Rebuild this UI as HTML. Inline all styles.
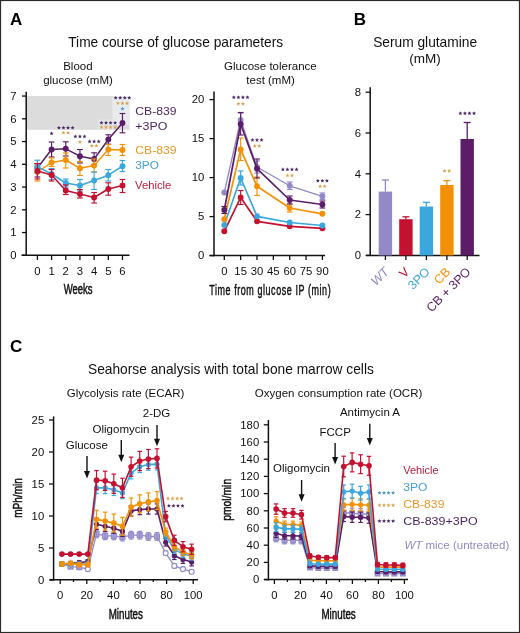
<!DOCTYPE html>
<html><head><meta charset="utf-8"><style>
html,body{margin:0;padding:0;background:#fff;}
svg{display:block;font-family:"Liberation Sans", sans-serif;will-change:transform;}
</style></head><body>
<svg width="520" height="633" viewBox="0 0 520 633">
<rect x="0" y="0" width="520" height="633" fill="#fff"/>
<text x="10.00" y="24.70" font-size="17" text-anchor="start" fill="#000" stroke="#000" stroke-width="0" font-weight="bold"  >A</text>
<text x="68.20" y="46.60" font-size="13.75" text-anchor="start" fill="#111" stroke="#111" stroke-width="0" font-weight="normal"  >Time course of glucose parameters</text>
<text x="77.90" y="69.60" font-size="11.5" text-anchor="middle" fill="#111" stroke="#111" stroke-width="0" font-weight="normal"  >Blood</text>
<text x="78.00" y="84.00" font-size="11.5" text-anchor="middle" fill="#111" stroke="#111" stroke-width="0" font-weight="normal"  >glucose (mM)</text>
<rect x="27" y="96" width="102.5" height="33.8" fill="#dcdcdc"/>
<rect x="112.5" y="96" width="17" height="29" fill="#e8ebee"/>
<rect x="98" y="119.5" width="15" height="10.3" fill="#e4e4e4"/>
<line x1="26.20" y1="91.80" x2="26.20" y2="256.05" stroke="#111" stroke-width="1.5" />
<line x1="21.50" y1="255.30" x2="129.50" y2="255.30" stroke="#111" stroke-width="1.5" />
<line x1="22.00" y1="255.30" x2="26.20" y2="255.30" stroke="#111" stroke-width="1.3" />
<text x="16.60" y="259.00" font-size="11.3" text-anchor="end" fill="#111" stroke="#111" stroke-width="0" font-weight="normal"  >0</text>
<line x1="22.00" y1="232.55" x2="26.20" y2="232.55" stroke="#111" stroke-width="1.3" />
<text x="16.60" y="236.25" font-size="11.3" text-anchor="end" fill="#111" stroke="#111" stroke-width="0" font-weight="normal"  >1</text>
<line x1="22.00" y1="209.80" x2="26.20" y2="209.80" stroke="#111" stroke-width="1.3" />
<text x="16.60" y="213.50" font-size="11.3" text-anchor="end" fill="#111" stroke="#111" stroke-width="0" font-weight="normal"  >2</text>
<line x1="22.00" y1="187.05" x2="26.20" y2="187.05" stroke="#111" stroke-width="1.3" />
<text x="16.60" y="190.75" font-size="11.3" text-anchor="end" fill="#111" stroke="#111" stroke-width="0" font-weight="normal"  >3</text>
<line x1="22.00" y1="164.30" x2="26.20" y2="164.30" stroke="#111" stroke-width="1.3" />
<text x="16.60" y="168.00" font-size="11.3" text-anchor="end" fill="#111" stroke="#111" stroke-width="0" font-weight="normal"  >4</text>
<line x1="22.00" y1="141.55" x2="26.20" y2="141.55" stroke="#111" stroke-width="1.3" />
<text x="16.60" y="145.25" font-size="11.3" text-anchor="end" fill="#111" stroke="#111" stroke-width="0" font-weight="normal"  >5</text>
<line x1="22.00" y1="118.80" x2="26.20" y2="118.80" stroke="#111" stroke-width="1.3" />
<text x="16.60" y="122.50" font-size="11.3" text-anchor="end" fill="#111" stroke="#111" stroke-width="0" font-weight="normal"  >6</text>
<line x1="22.00" y1="96.05" x2="26.20" y2="96.05" stroke="#111" stroke-width="1.3" />
<text x="16.60" y="99.75" font-size="11.3" text-anchor="end" fill="#111" stroke="#111" stroke-width="0" font-weight="normal"  >7</text>
<line x1="37.40" y1="255.30" x2="37.40" y2="260.00" stroke="#111" stroke-width="1.3" />
<text x="37.40" y="274.80" font-size="11.3" text-anchor="middle" fill="#111" stroke="#111" stroke-width="0" font-weight="normal"  >0</text>
<line x1="51.58" y1="255.30" x2="51.58" y2="260.00" stroke="#111" stroke-width="1.3" />
<text x="51.58" y="274.80" font-size="11.3" text-anchor="middle" fill="#111" stroke="#111" stroke-width="0" font-weight="normal"  >1</text>
<line x1="65.76" y1="255.30" x2="65.76" y2="260.00" stroke="#111" stroke-width="1.3" />
<text x="65.76" y="274.80" font-size="11.3" text-anchor="middle" fill="#111" stroke="#111" stroke-width="0" font-weight="normal"  >2</text>
<line x1="79.94" y1="255.30" x2="79.94" y2="260.00" stroke="#111" stroke-width="1.3" />
<text x="79.94" y="274.80" font-size="11.3" text-anchor="middle" fill="#111" stroke="#111" stroke-width="0" font-weight="normal"  >3</text>
<line x1="94.12" y1="255.30" x2="94.12" y2="260.00" stroke="#111" stroke-width="1.3" />
<text x="94.12" y="274.80" font-size="11.3" text-anchor="middle" fill="#111" stroke="#111" stroke-width="0" font-weight="normal"  >4</text>
<line x1="108.30" y1="255.30" x2="108.30" y2="260.00" stroke="#111" stroke-width="1.3" />
<text x="108.30" y="274.80" font-size="11.3" text-anchor="middle" fill="#111" stroke="#111" stroke-width="0" font-weight="normal"  >5</text>
<line x1="122.48" y1="255.30" x2="122.48" y2="260.00" stroke="#111" stroke-width="1.3" />
<text x="122.48" y="274.80" font-size="11.3" text-anchor="middle" fill="#111" stroke="#111" stroke-width="0" font-weight="normal"  >6</text>
<text transform="translate(78.10,294.40) scale(0.67,1)" font-size="14.2" text-anchor="middle" fill="#111" stroke="#111" stroke-width="0.5" letter-spacing="0">Weeks</text>
<line x1="37.40" y1="163.60" x2="37.40" y2="177.00" stroke="#5b1d68" stroke-width="1.15"/>
<line x1="34.50" y1="163.60" x2="40.30" y2="163.60" stroke="#5b1d68" stroke-width="1.15"/>
<line x1="34.50" y1="177.00" x2="40.30" y2="177.00" stroke="#5b1d68" stroke-width="1.15"/>
<line x1="51.58" y1="142.00" x2="51.58" y2="157.00" stroke="#5b1d68" stroke-width="1.15"/>
<line x1="48.68" y1="142.00" x2="54.48" y2="142.00" stroke="#5b1d68" stroke-width="1.15"/>
<line x1="48.68" y1="157.00" x2="54.48" y2="157.00" stroke="#5b1d68" stroke-width="1.15"/>
<line x1="65.76" y1="141.80" x2="65.76" y2="156.00" stroke="#5b1d68" stroke-width="1.15"/>
<line x1="62.86" y1="141.80" x2="68.66" y2="141.80" stroke="#5b1d68" stroke-width="1.15"/>
<line x1="62.86" y1="156.00" x2="68.66" y2="156.00" stroke="#5b1d68" stroke-width="1.15"/>
<line x1="79.94" y1="149.50" x2="79.94" y2="163.00" stroke="#5b1d68" stroke-width="1.15"/>
<line x1="77.04" y1="149.50" x2="82.84" y2="149.50" stroke="#5b1d68" stroke-width="1.15"/>
<line x1="77.04" y1="163.00" x2="82.84" y2="163.00" stroke="#5b1d68" stroke-width="1.15"/>
<line x1="94.12" y1="152.80" x2="94.12" y2="165.00" stroke="#5b1d68" stroke-width="1.15"/>
<line x1="91.22" y1="152.80" x2="97.02" y2="152.80" stroke="#5b1d68" stroke-width="1.15"/>
<line x1="91.22" y1="165.00" x2="97.02" y2="165.00" stroke="#5b1d68" stroke-width="1.15"/>
<line x1="108.30" y1="134.80" x2="108.30" y2="144.20" stroke="#5b1d68" stroke-width="1.15"/>
<line x1="105.40" y1="134.80" x2="111.20" y2="134.80" stroke="#5b1d68" stroke-width="1.15"/>
<line x1="105.40" y1="144.20" x2="111.20" y2="144.20" stroke="#5b1d68" stroke-width="1.15"/>
<line x1="122.48" y1="113.50" x2="122.48" y2="132.80" stroke="#5b1d68" stroke-width="1.15"/>
<line x1="119.58" y1="113.50" x2="125.38" y2="113.50" stroke="#5b1d68" stroke-width="1.15"/>
<line x1="119.58" y1="132.80" x2="125.38" y2="132.80" stroke="#5b1d68" stroke-width="1.15"/>
<path d="M37.40,168.00 L51.58,149.50 L65.76,148.80 L79.94,156.20 L94.12,159.00 L108.30,139.50 L122.48,123.00" fill="none" stroke="#5b1d68" stroke-width="1.5" stroke-linejoin="round"/>
<circle cx="37.40" cy="168.00" r="2.95" fill="#5b1d68"/>
<circle cx="51.58" cy="149.50" r="2.95" fill="#5b1d68"/>
<circle cx="65.76" cy="148.80" r="2.95" fill="#5b1d68"/>
<circle cx="79.94" cy="156.20" r="2.95" fill="#5b1d68"/>
<circle cx="94.12" cy="159.00" r="2.95" fill="#5b1d68"/>
<circle cx="108.30" cy="139.50" r="2.95" fill="#5b1d68"/>
<circle cx="122.48" cy="123.00" r="2.95" fill="#5b1d68"/>
<line x1="37.40" y1="165.00" x2="37.40" y2="181.00" stroke="#f29108" stroke-width="1.15"/>
<line x1="34.50" y1="165.00" x2="40.30" y2="165.00" stroke="#f29108" stroke-width="1.15"/>
<line x1="34.50" y1="181.00" x2="40.30" y2="181.00" stroke="#f29108" stroke-width="1.15"/>
<line x1="51.58" y1="158.00" x2="51.58" y2="166.50" stroke="#f29108" stroke-width="1.15"/>
<line x1="48.68" y1="158.00" x2="54.48" y2="158.00" stroke="#f29108" stroke-width="1.15"/>
<line x1="48.68" y1="166.50" x2="54.48" y2="166.50" stroke="#f29108" stroke-width="1.15"/>
<line x1="65.76" y1="153.00" x2="65.76" y2="168.00" stroke="#f29108" stroke-width="1.15"/>
<line x1="62.86" y1="153.00" x2="68.66" y2="153.00" stroke="#f29108" stroke-width="1.15"/>
<line x1="62.86" y1="168.00" x2="68.66" y2="168.00" stroke="#f29108" stroke-width="1.15"/>
<line x1="79.94" y1="161.50" x2="79.94" y2="175.50" stroke="#f29108" stroke-width="1.15"/>
<line x1="77.04" y1="161.50" x2="82.84" y2="161.50" stroke="#f29108" stroke-width="1.15"/>
<line x1="77.04" y1="175.50" x2="82.84" y2="175.50" stroke="#f29108" stroke-width="1.15"/>
<line x1="94.12" y1="159.00" x2="94.12" y2="172.00" stroke="#f29108" stroke-width="1.15"/>
<line x1="91.22" y1="159.00" x2="97.02" y2="159.00" stroke="#f29108" stroke-width="1.15"/>
<line x1="91.22" y1="172.00" x2="97.02" y2="172.00" stroke="#f29108" stroke-width="1.15"/>
<line x1="108.30" y1="144.50" x2="108.30" y2="155.50" stroke="#f29108" stroke-width="1.15"/>
<line x1="105.40" y1="144.50" x2="111.20" y2="144.50" stroke="#f29108" stroke-width="1.15"/>
<line x1="105.40" y1="155.50" x2="111.20" y2="155.50" stroke="#f29108" stroke-width="1.15"/>
<line x1="122.48" y1="144.50" x2="122.48" y2="155.50" stroke="#f29108" stroke-width="1.15"/>
<line x1="119.58" y1="144.50" x2="125.38" y2="144.50" stroke="#f29108" stroke-width="1.15"/>
<line x1="119.58" y1="155.50" x2="125.38" y2="155.50" stroke="#f29108" stroke-width="1.15"/>
<path d="M37.40,172.00 L51.58,162.50 L65.76,160.00 L79.94,168.30 L94.12,165.50 L108.30,149.50 L122.48,150.00" fill="none" stroke="#f29108" stroke-width="1.5" stroke-linejoin="round"/>
<circle cx="37.40" cy="172.00" r="2.95" fill="#f29108"/>
<circle cx="51.58" cy="162.50" r="2.95" fill="#f29108"/>
<circle cx="65.76" cy="160.00" r="2.95" fill="#f29108"/>
<circle cx="79.94" cy="168.30" r="2.95" fill="#f29108"/>
<circle cx="94.12" cy="165.50" r="2.95" fill="#f29108"/>
<circle cx="108.30" cy="149.50" r="2.95" fill="#f29108"/>
<circle cx="122.48" cy="150.00" r="2.95" fill="#f29108"/>
<line x1="37.40" y1="160.20" x2="37.40" y2="173.00" stroke="#3aa7de" stroke-width="1.15"/>
<line x1="34.50" y1="160.20" x2="40.30" y2="160.20" stroke="#3aa7de" stroke-width="1.15"/>
<line x1="34.50" y1="173.00" x2="40.30" y2="173.00" stroke="#3aa7de" stroke-width="1.15"/>
<line x1="51.58" y1="168.50" x2="51.58" y2="179.50" stroke="#3aa7de" stroke-width="1.15"/>
<line x1="48.68" y1="168.50" x2="54.48" y2="168.50" stroke="#3aa7de" stroke-width="1.15"/>
<line x1="48.68" y1="179.50" x2="54.48" y2="179.50" stroke="#3aa7de" stroke-width="1.15"/>
<line x1="65.76" y1="179.00" x2="65.76" y2="187.00" stroke="#3aa7de" stroke-width="1.15"/>
<line x1="62.86" y1="179.00" x2="68.66" y2="179.00" stroke="#3aa7de" stroke-width="1.15"/>
<line x1="62.86" y1="187.00" x2="68.66" y2="187.00" stroke="#3aa7de" stroke-width="1.15"/>
<line x1="79.94" y1="179.50" x2="79.94" y2="191.00" stroke="#3aa7de" stroke-width="1.15"/>
<line x1="77.04" y1="179.50" x2="82.84" y2="179.50" stroke="#3aa7de" stroke-width="1.15"/>
<line x1="77.04" y1="191.00" x2="82.84" y2="191.00" stroke="#3aa7de" stroke-width="1.15"/>
<line x1="94.12" y1="172.00" x2="94.12" y2="189.50" stroke="#3aa7de" stroke-width="1.15"/>
<line x1="91.22" y1="172.00" x2="97.02" y2="172.00" stroke="#3aa7de" stroke-width="1.15"/>
<line x1="91.22" y1="189.50" x2="97.02" y2="189.50" stroke="#3aa7de" stroke-width="1.15"/>
<line x1="108.30" y1="169.50" x2="108.30" y2="181.00" stroke="#3aa7de" stroke-width="1.15"/>
<line x1="105.40" y1="169.50" x2="111.20" y2="169.50" stroke="#3aa7de" stroke-width="1.15"/>
<line x1="105.40" y1="181.00" x2="111.20" y2="181.00" stroke="#3aa7de" stroke-width="1.15"/>
<line x1="122.48" y1="160.50" x2="122.48" y2="171.50" stroke="#3aa7de" stroke-width="1.15"/>
<line x1="119.58" y1="160.50" x2="125.38" y2="160.50" stroke="#3aa7de" stroke-width="1.15"/>
<line x1="119.58" y1="171.50" x2="125.38" y2="171.50" stroke="#3aa7de" stroke-width="1.15"/>
<path d="M37.40,166.60 L51.58,174.00 L65.76,183.00 L79.94,185.50 L94.12,180.50 L108.30,175.20 L122.48,166.20" fill="none" stroke="#3aa7de" stroke-width="1.5" stroke-linejoin="round"/>
<circle cx="37.40" cy="166.60" r="2.95" fill="#3aa7de"/>
<circle cx="51.58" cy="174.00" r="2.95" fill="#3aa7de"/>
<circle cx="65.76" cy="183.00" r="2.95" fill="#3aa7de"/>
<circle cx="79.94" cy="185.50" r="2.95" fill="#3aa7de"/>
<circle cx="94.12" cy="180.50" r="2.95" fill="#3aa7de"/>
<circle cx="108.30" cy="175.20" r="2.95" fill="#3aa7de"/>
<circle cx="122.48" cy="166.20" r="2.95" fill="#3aa7de"/>
<line x1="37.40" y1="163.50" x2="37.40" y2="179.00" stroke="#c3112f" stroke-width="1.15"/>
<line x1="34.50" y1="163.50" x2="40.30" y2="163.50" stroke="#c3112f" stroke-width="1.15"/>
<line x1="34.50" y1="179.00" x2="40.30" y2="179.00" stroke="#c3112f" stroke-width="1.15"/>
<line x1="51.58" y1="169.50" x2="51.58" y2="181.00" stroke="#c3112f" stroke-width="1.15"/>
<line x1="48.68" y1="169.50" x2="54.48" y2="169.50" stroke="#c3112f" stroke-width="1.15"/>
<line x1="48.68" y1="181.00" x2="54.48" y2="181.00" stroke="#c3112f" stroke-width="1.15"/>
<line x1="65.76" y1="185.00" x2="65.76" y2="194.50" stroke="#c3112f" stroke-width="1.15"/>
<line x1="62.86" y1="185.00" x2="68.66" y2="185.00" stroke="#c3112f" stroke-width="1.15"/>
<line x1="62.86" y1="194.50" x2="68.66" y2="194.50" stroke="#c3112f" stroke-width="1.15"/>
<line x1="79.94" y1="189.50" x2="79.94" y2="198.00" stroke="#c3112f" stroke-width="1.15"/>
<line x1="77.04" y1="189.50" x2="82.84" y2="189.50" stroke="#c3112f" stroke-width="1.15"/>
<line x1="77.04" y1="198.00" x2="82.84" y2="198.00" stroke="#c3112f" stroke-width="1.15"/>
<line x1="94.12" y1="192.50" x2="94.12" y2="203.00" stroke="#c3112f" stroke-width="1.15"/>
<line x1="91.22" y1="192.50" x2="97.02" y2="192.50" stroke="#c3112f" stroke-width="1.15"/>
<line x1="91.22" y1="203.00" x2="97.02" y2="203.00" stroke="#c3112f" stroke-width="1.15"/>
<line x1="108.30" y1="182.80" x2="108.30" y2="195.20" stroke="#c3112f" stroke-width="1.15"/>
<line x1="105.40" y1="182.80" x2="111.20" y2="182.80" stroke="#c3112f" stroke-width="1.15"/>
<line x1="105.40" y1="195.20" x2="111.20" y2="195.20" stroke="#c3112f" stroke-width="1.15"/>
<line x1="122.48" y1="179.50" x2="122.48" y2="192.50" stroke="#c3112f" stroke-width="1.15"/>
<line x1="119.58" y1="179.50" x2="125.38" y2="179.50" stroke="#c3112f" stroke-width="1.15"/>
<line x1="119.58" y1="192.50" x2="125.38" y2="192.50" stroke="#c3112f" stroke-width="1.15"/>
<path d="M37.40,171.00 L51.58,175.00 L65.76,190.50 L79.94,194.00 L94.12,197.50 L108.30,189.00 L122.48,185.50" fill="none" stroke="#c3112f" stroke-width="1.5" stroke-linejoin="round"/>
<circle cx="37.40" cy="171.00" r="2.95" fill="#c3112f"/>
<circle cx="51.58" cy="175.00" r="2.95" fill="#c3112f"/>
<circle cx="65.76" cy="190.50" r="2.95" fill="#c3112f"/>
<circle cx="79.94" cy="194.00" r="2.95" fill="#c3112f"/>
<circle cx="94.12" cy="197.50" r="2.95" fill="#c3112f"/>
<circle cx="108.30" cy="189.00" r="2.95" fill="#c3112f"/>
<circle cx="122.48" cy="185.50" r="2.95" fill="#c3112f"/>
<polygon points="51.58,131.35 52.15,132.72 53.62,132.84 52.50,133.80 52.84,135.24 51.58,134.47 50.32,135.24 50.66,133.80 49.54,132.84 51.01,132.72" fill="#482a66"/>
<polygon points="58.93,125.65 59.50,127.02 60.98,127.14 59.86,128.10 60.20,129.54 58.93,128.77 57.67,129.54 58.01,128.10 56.89,127.14 58.37,127.02" fill="#482a66"/>
<polygon points="63.48,125.65 64.05,127.02 65.53,127.14 64.41,128.10 64.75,129.54 63.48,128.77 62.22,129.54 62.56,128.10 61.44,127.14 62.92,127.02" fill="#482a66"/>
<polygon points="68.03,125.65 68.60,127.02 70.08,127.14 68.96,128.10 69.30,129.54 68.03,128.77 66.77,129.54 67.11,128.10 65.99,127.14 67.47,127.02" fill="#482a66"/>
<polygon points="72.58,125.65 73.15,127.02 74.63,127.14 73.51,128.10 73.85,129.54 72.58,128.77 71.32,129.54 71.66,128.10 70.54,127.14 72.02,127.02" fill="#482a66"/>
<polygon points="63.48,130.65 64.05,132.02 65.53,132.14 64.41,133.10 64.75,134.54 63.48,133.77 62.22,134.54 62.56,133.10 61.44,132.14 62.92,132.02" fill="#dba14c"/>
<polygon points="68.03,130.65 68.60,132.02 70.08,132.14 68.96,133.10 69.30,134.54 68.03,133.77 66.77,134.54 67.11,133.10 65.99,132.14 67.47,132.02" fill="#dba14c"/>
<polygon points="75.39,134.35 75.96,135.72 77.43,135.84 76.31,136.80 76.65,138.24 75.39,137.47 74.13,138.24 74.47,136.80 73.35,135.84 74.82,135.72" fill="#482a66"/>
<polygon points="79.94,134.35 80.51,135.72 81.98,135.84 80.86,136.80 81.20,138.24 79.94,137.47 78.68,138.24 79.02,136.80 77.90,135.84 79.37,135.72" fill="#482a66"/>
<polygon points="84.49,134.35 85.06,135.72 86.53,135.84 85.41,136.80 85.75,138.24 84.49,137.47 83.23,138.24 83.57,136.80 82.45,135.84 83.92,135.72" fill="#482a66"/>
<polygon points="79.94,139.85 80.51,141.22 81.98,141.34 80.86,142.30 81.20,143.74 79.94,142.97 78.68,143.74 79.02,142.30 77.90,141.34 79.37,141.22" fill="#dba14c"/>
<polygon points="89.57,139.35 90.14,140.72 91.61,140.84 90.49,141.80 90.83,143.24 89.57,142.47 88.31,143.24 88.65,141.80 87.53,140.84 89.00,140.72" fill="#482a66"/>
<polygon points="94.12,139.35 94.69,140.72 96.16,140.84 95.04,141.80 95.38,143.24 94.12,142.47 92.86,143.24 93.20,141.80 92.08,140.84 93.55,140.72" fill="#482a66"/>
<polygon points="98.67,139.35 99.24,140.72 100.71,140.84 99.59,141.80 99.93,143.24 98.67,142.47 97.41,143.24 97.75,141.80 96.63,140.84 98.10,140.72" fill="#482a66"/>
<polygon points="91.84,143.65 92.41,145.02 93.89,145.14 92.77,146.10 93.11,147.54 91.84,146.77 90.58,147.54 90.92,146.10 89.80,145.14 91.28,145.02" fill="#dba14c"/>
<polygon points="96.39,143.65 96.96,145.02 98.44,145.14 97.32,146.10 97.66,147.54 96.39,146.77 95.13,147.54 95.47,146.10 94.35,145.14 95.83,145.02" fill="#dba14c"/>
<polygon points="101.48,120.65 102.04,122.02 103.52,122.14 102.40,123.10 102.74,124.54 101.48,123.77 100.21,124.54 100.55,123.10 99.43,122.14 100.91,122.02" fill="#482a66"/>
<polygon points="106.03,120.65 106.59,122.02 108.07,122.14 106.95,123.10 107.29,124.54 106.03,123.77 104.76,124.54 105.10,123.10 103.98,122.14 105.46,122.02" fill="#482a66"/>
<polygon points="110.58,120.65 111.14,122.02 112.62,122.14 111.50,123.10 111.84,124.54 110.58,123.77 109.31,124.54 109.65,123.10 108.53,122.14 110.01,122.02" fill="#482a66"/>
<polygon points="115.12,120.65 115.69,122.02 117.17,122.14 116.05,123.10 116.39,124.54 115.12,123.77 113.86,124.54 114.20,123.10 113.08,122.14 114.56,122.02" fill="#482a66"/>
<polygon points="101.48,125.05 102.04,126.42 103.52,126.54 102.40,127.50 102.74,128.94 101.48,128.17 100.21,128.94 100.55,127.50 99.43,126.54 100.91,126.42" fill="#dba14c"/>
<polygon points="106.03,125.05 106.59,126.42 108.07,126.54 106.95,127.50 107.29,128.94 106.03,128.17 104.76,128.94 105.10,127.50 103.98,126.54 105.46,126.42" fill="#dba14c"/>
<polygon points="110.58,125.05 111.14,126.42 112.62,126.54 111.50,127.50 111.84,128.94 110.58,128.17 109.31,128.94 109.65,127.50 108.53,126.54 110.01,126.42" fill="#dba14c"/>
<polygon points="115.12,125.05 115.69,126.42 117.17,126.54 116.05,127.50 116.39,128.94 115.12,128.17 113.86,128.94 114.20,127.50 113.08,126.54 114.56,126.42" fill="#dba14c"/>
<polygon points="115.65,95.65 116.22,97.02 117.70,97.14 116.58,98.10 116.92,99.54 115.65,98.77 114.39,99.54 114.73,98.10 113.61,97.14 115.09,97.02" fill="#482a66"/>
<polygon points="120.20,95.65 120.77,97.02 122.25,97.14 121.13,98.10 121.47,99.54 120.20,98.77 118.94,99.54 119.28,98.10 118.16,97.14 119.64,97.02" fill="#482a66"/>
<polygon points="124.75,95.65 125.32,97.02 126.80,97.14 125.68,98.10 126.02,99.54 124.75,98.77 123.49,99.54 123.83,98.10 122.71,97.14 124.19,97.02" fill="#482a66"/>
<polygon points="129.30,95.65 129.87,97.02 131.35,97.14 130.23,98.10 130.57,99.54 129.30,98.77 128.04,99.54 128.38,98.10 127.26,97.14 128.74,97.02" fill="#482a66"/>
<polygon points="117.93,101.15 118.50,102.52 119.97,102.64 118.85,103.60 119.19,105.04 117.93,104.27 116.67,105.04 117.01,103.60 115.89,102.64 117.36,102.52" fill="#dba14c"/>
<polygon points="122.48,101.15 123.05,102.52 124.52,102.64 123.40,103.60 123.74,105.04 122.48,104.27 121.22,105.04 121.56,103.60 120.44,102.64 121.91,102.52" fill="#dba14c"/>
<polygon points="127.03,101.15 127.60,102.52 129.07,102.64 127.95,103.60 128.29,105.04 127.03,104.27 125.77,105.04 126.11,103.60 124.99,102.64 126.46,102.52" fill="#dba14c"/>
<polygon points="122.48,106.55 123.05,107.92 124.52,108.04 123.40,109.00 123.74,110.44 122.48,109.67 121.22,110.44 121.56,109.00 120.44,108.04 121.91,107.92" fill="#4f96c4"/>
<text x="135.30" y="115.40" font-size="11.8" text-anchor="start" fill="#4f2764" stroke="#4f2764" stroke-width="0" font-weight="normal"   textLength="41.2" lengthAdjust="spacingAndGlyphs">CB-839</text>
<text x="135.30" y="130.00" font-size="11.8" text-anchor="start" fill="#4f2764" stroke="#4f2764" stroke-width="0" font-weight="normal"   textLength="32.1" lengthAdjust="spacingAndGlyphs">+3PO</text>
<text x="135.30" y="153.60" font-size="11.8" text-anchor="start" fill="#e99626" stroke="#e99626" stroke-width="0" font-weight="normal"   textLength="41.2" lengthAdjust="spacingAndGlyphs">CB-839</text>
<text x="135.30" y="169.20" font-size="11.8" text-anchor="start" fill="#45a2d6" stroke="#45a2d6" stroke-width="0" font-weight="normal"  >3PO</text>
<text x="135.00" y="189.20" font-size="11.8" text-anchor="start" fill="#b51d3d" stroke="#b51d3d" stroke-width="0" font-weight="normal"   textLength="36.3" lengthAdjust="spacingAndGlyphs">Vehicle</text>
<text x="270.40" y="70.10" font-size="11.5" text-anchor="middle" fill="#111" stroke="#111" stroke-width="0" font-weight="normal"  >Glucose tolerance</text>
<text x="270.60" y="84.00" font-size="11.5" text-anchor="middle" fill="#111" stroke="#111" stroke-width="0" font-weight="normal"  >test (mM)</text>
<line x1="214.00" y1="91.50" x2="214.00" y2="256.30" stroke="#111" stroke-width="1.5" />
<line x1="209.50" y1="255.60" x2="325.00" y2="255.60" stroke="#111" stroke-width="1.5" />
<line x1="209.50" y1="255.60" x2="214.00" y2="255.60" stroke="#111" stroke-width="1.3" />
<text x="204.30" y="259.30" font-size="11.3" text-anchor="end" fill="#111" stroke="#111" stroke-width="0" font-weight="normal"  >0</text>
<line x1="209.50" y1="216.60" x2="214.00" y2="216.60" stroke="#111" stroke-width="1.3" />
<text x="204.30" y="220.30" font-size="11.3" text-anchor="end" fill="#111" stroke="#111" stroke-width="0" font-weight="normal"  >5</text>
<line x1="209.50" y1="177.60" x2="214.00" y2="177.60" stroke="#111" stroke-width="1.3" />
<text x="204.30" y="181.30" font-size="11.3" text-anchor="end" fill="#111" stroke="#111" stroke-width="0" font-weight="normal"  >10</text>
<line x1="209.50" y1="138.60" x2="214.00" y2="138.60" stroke="#111" stroke-width="1.3" />
<text x="204.30" y="142.30" font-size="11.3" text-anchor="end" fill="#111" stroke="#111" stroke-width="0" font-weight="normal"  >15</text>
<line x1="209.50" y1="99.60" x2="214.00" y2="99.60" stroke="#111" stroke-width="1.3" />
<text x="204.30" y="103.30" font-size="11.3" text-anchor="end" fill="#111" stroke="#111" stroke-width="0" font-weight="normal"  >20</text>
<line x1="224.30" y1="255.60" x2="224.30" y2="260.00" stroke="#111" stroke-width="1.3" />
<text x="224.30" y="275.10" font-size="11.3" text-anchor="middle" fill="#111" stroke="#111" stroke-width="0" font-weight="normal"  >0</text>
<line x1="240.65" y1="255.60" x2="240.65" y2="260.00" stroke="#111" stroke-width="1.3" />
<text x="240.65" y="275.10" font-size="11.3" text-anchor="middle" fill="#111" stroke="#111" stroke-width="0" font-weight="normal"  >15</text>
<line x1="257.00" y1="255.60" x2="257.00" y2="260.00" stroke="#111" stroke-width="1.3" />
<text x="257.00" y="275.10" font-size="11.3" text-anchor="middle" fill="#111" stroke="#111" stroke-width="0" font-weight="normal"  >30</text>
<line x1="273.35" y1="255.60" x2="273.35" y2="260.00" stroke="#111" stroke-width="1.3" />
<text x="273.35" y="275.10" font-size="11.3" text-anchor="middle" fill="#111" stroke="#111" stroke-width="0" font-weight="normal"  >45</text>
<line x1="289.70" y1="255.60" x2="289.70" y2="260.00" stroke="#111" stroke-width="1.3" />
<text x="289.70" y="275.10" font-size="11.3" text-anchor="middle" fill="#111" stroke="#111" stroke-width="0" font-weight="normal"  >60</text>
<line x1="306.05" y1="255.60" x2="306.05" y2="260.00" stroke="#111" stroke-width="1.3" />
<text x="306.05" y="275.10" font-size="11.3" text-anchor="middle" fill="#111" stroke="#111" stroke-width="0" font-weight="normal"  >75</text>
<line x1="322.40" y1="255.60" x2="322.40" y2="260.00" stroke="#111" stroke-width="1.3" />
<text x="322.40" y="275.10" font-size="11.3" text-anchor="middle" fill="#111" stroke="#111" stroke-width="0" font-weight="normal"  >90</text>
<text transform="translate(270.20,294.90) scale(0.64,1)" font-size="14" text-anchor="middle" fill="#111" stroke="#111" stroke-width="0.45" letter-spacing="0.9">Time from glucose IP (min)</text>
<line x1="240.65" y1="190.50" x2="240.65" y2="204.50" stroke="#c3112f" stroke-width="1.15"/>
<line x1="237.75" y1="190.50" x2="243.55" y2="190.50" stroke="#c3112f" stroke-width="1.15"/>
<line x1="237.75" y1="204.50" x2="243.55" y2="204.50" stroke="#c3112f" stroke-width="1.15"/>
<path d="M224.30,231.30 L240.65,197.50 L257.00,221.30 L289.70,226.30 L322.40,228.30" fill="none" stroke="#c3112f" stroke-width="1.7" stroke-linejoin="round"/>
<circle cx="224.30" cy="231.30" r="2.95" fill="#c3112f"/>
<circle cx="240.65" cy="197.50" r="2.95" fill="#c3112f"/>
<circle cx="257.00" cy="221.30" r="2.95" fill="#c3112f"/>
<circle cx="289.70" cy="226.30" r="2.95" fill="#c3112f"/>
<circle cx="322.40" cy="228.30" r="2.95" fill="#c3112f"/>
<line x1="240.65" y1="171.00" x2="240.65" y2="185.00" stroke="#3aa7de" stroke-width="1.15"/>
<line x1="237.75" y1="171.00" x2="243.55" y2="171.00" stroke="#3aa7de" stroke-width="1.15"/>
<line x1="237.75" y1="185.00" x2="243.55" y2="185.00" stroke="#3aa7de" stroke-width="1.15"/>
<path d="M224.30,225.00 L240.65,178.00 L257.00,216.30 L289.70,222.50 L322.40,225.50" fill="none" stroke="#3aa7de" stroke-width="1.7" stroke-linejoin="round"/>
<circle cx="224.30" cy="225.00" r="2.95" fill="#3aa7de"/>
<circle cx="240.65" cy="178.00" r="2.95" fill="#3aa7de"/>
<circle cx="257.00" cy="216.30" r="2.95" fill="#3aa7de"/>
<circle cx="289.70" cy="222.50" r="2.95" fill="#3aa7de"/>
<circle cx="322.40" cy="225.50" r="2.95" fill="#3aa7de"/>
<line x1="240.65" y1="138.00" x2="240.65" y2="160.50" stroke="#f29108" stroke-width="1.15"/>
<line x1="237.75" y1="138.00" x2="243.55" y2="138.00" stroke="#f29108" stroke-width="1.15"/>
<line x1="237.75" y1="160.50" x2="243.55" y2="160.50" stroke="#f29108" stroke-width="1.15"/>
<line x1="257.00" y1="177.00" x2="257.00" y2="195.50" stroke="#f29108" stroke-width="1.15"/>
<line x1="254.10" y1="177.00" x2="259.90" y2="177.00" stroke="#f29108" stroke-width="1.15"/>
<line x1="254.10" y1="195.50" x2="259.90" y2="195.50" stroke="#f29108" stroke-width="1.15"/>
<line x1="289.70" y1="204.00" x2="289.70" y2="212.00" stroke="#f29108" stroke-width="1.15"/>
<line x1="286.80" y1="204.00" x2="292.60" y2="204.00" stroke="#f29108" stroke-width="1.15"/>
<line x1="286.80" y1="212.00" x2="292.60" y2="212.00" stroke="#f29108" stroke-width="1.15"/>
<path d="M224.30,219.30 L240.65,149.40 L257.00,186.30 L289.70,208.00 L322.40,213.80" fill="none" stroke="#f29108" stroke-width="1.7" stroke-linejoin="round"/>
<circle cx="224.30" cy="219.30" r="2.95" fill="#f29108"/>
<circle cx="240.65" cy="149.40" r="2.95" fill="#f29108"/>
<circle cx="257.00" cy="186.30" r="2.95" fill="#f29108"/>
<circle cx="289.70" cy="208.00" r="2.95" fill="#f29108"/>
<circle cx="322.40" cy="213.80" r="2.95" fill="#f29108"/>
<line x1="240.65" y1="113.00" x2="240.65" y2="127.00" stroke="#9289c6" stroke-width="1.15"/>
<line x1="237.75" y1="113.00" x2="243.55" y2="113.00" stroke="#9289c6" stroke-width="1.15"/>
<line x1="237.75" y1="127.00" x2="243.55" y2="127.00" stroke="#9289c6" stroke-width="1.15"/>
<line x1="257.00" y1="161.00" x2="257.00" y2="173.00" stroke="#9289c6" stroke-width="1.15"/>
<line x1="254.10" y1="161.00" x2="259.90" y2="161.00" stroke="#9289c6" stroke-width="1.15"/>
<line x1="254.10" y1="173.00" x2="259.90" y2="173.00" stroke="#9289c6" stroke-width="1.15"/>
<line x1="289.70" y1="182.00" x2="289.70" y2="189.50" stroke="#9289c6" stroke-width="1.15"/>
<line x1="286.80" y1="182.00" x2="292.60" y2="182.00" stroke="#9289c6" stroke-width="1.15"/>
<line x1="286.80" y1="189.50" x2="292.60" y2="189.50" stroke="#9289c6" stroke-width="1.15"/>
<line x1="322.40" y1="193.00" x2="322.40" y2="199.50" stroke="#9289c6" stroke-width="1.15"/>
<line x1="319.50" y1="193.00" x2="325.30" y2="193.00" stroke="#9289c6" stroke-width="1.15"/>
<line x1="319.50" y1="199.50" x2="325.30" y2="199.50" stroke="#9289c6" stroke-width="1.15"/>
<path d="M224.30,192.50 L240.65,120.00 L257.00,167.00 L289.70,185.80 L322.40,196.30" fill="none" stroke="#9289c6" stroke-width="1.3" stroke-linejoin="round"/>
<circle cx="224.30" cy="192.50" r="2.95" fill="#9289c6"/>
<circle cx="240.65" cy="120.00" r="2.95" fill="#9289c6"/>
<circle cx="257.00" cy="167.00" r="2.95" fill="#9289c6"/>
<circle cx="289.70" cy="185.80" r="2.95" fill="#9289c6"/>
<circle cx="322.40" cy="196.30" r="2.95" fill="#9289c6"/>
<line x1="224.30" y1="206.50" x2="224.30" y2="213.50" stroke="#5b1d68" stroke-width="1.15"/>
<line x1="221.40" y1="206.50" x2="227.20" y2="206.50" stroke="#5b1d68" stroke-width="1.15"/>
<line x1="221.40" y1="213.50" x2="227.20" y2="213.50" stroke="#5b1d68" stroke-width="1.15"/>
<line x1="240.65" y1="112.50" x2="240.65" y2="135.00" stroke="#5b1d68" stroke-width="1.15"/>
<line x1="237.75" y1="112.50" x2="243.55" y2="112.50" stroke="#5b1d68" stroke-width="1.15"/>
<line x1="237.75" y1="135.00" x2="243.55" y2="135.00" stroke="#5b1d68" stroke-width="1.15"/>
<line x1="257.00" y1="159.00" x2="257.00" y2="178.00" stroke="#5b1d68" stroke-width="1.15"/>
<line x1="254.10" y1="159.00" x2="259.90" y2="159.00" stroke="#5b1d68" stroke-width="1.15"/>
<line x1="254.10" y1="178.00" x2="259.90" y2="178.00" stroke="#5b1d68" stroke-width="1.15"/>
<line x1="289.70" y1="196.00" x2="289.70" y2="204.00" stroke="#5b1d68" stroke-width="1.15"/>
<line x1="286.80" y1="196.00" x2="292.60" y2="196.00" stroke="#5b1d68" stroke-width="1.15"/>
<line x1="286.80" y1="204.00" x2="292.60" y2="204.00" stroke="#5b1d68" stroke-width="1.15"/>
<line x1="322.40" y1="201.00" x2="322.40" y2="208.00" stroke="#5b1d68" stroke-width="1.15"/>
<line x1="319.50" y1="201.00" x2="325.30" y2="201.00" stroke="#5b1d68" stroke-width="1.15"/>
<line x1="319.50" y1="208.00" x2="325.30" y2="208.00" stroke="#5b1d68" stroke-width="1.15"/>
<path d="M224.30,210.00 L240.65,124.00 L257.00,168.70 L289.70,200.00 L322.40,204.50" fill="none" stroke="#5b1d68" stroke-width="1.7" stroke-linejoin="round"/>
<circle cx="224.30" cy="210.00" r="2.95" fill="#5b1d68"/>
<circle cx="240.65" cy="124.00" r="2.95" fill="#5b1d68"/>
<circle cx="257.00" cy="168.70" r="2.95" fill="#5b1d68"/>
<circle cx="289.70" cy="200.00" r="2.95" fill="#5b1d68"/>
<circle cx="322.40" cy="204.50" r="2.95" fill="#5b1d68"/>
<polygon points="233.83,95.25 234.39,96.62 235.87,96.74 234.75,97.70 235.09,99.14 233.83,98.37 232.56,99.14 232.90,97.70 231.78,96.74 233.26,96.62" fill="#482a66"/>
<polygon points="238.38,95.25 238.94,96.62 240.42,96.74 239.30,97.70 239.64,99.14 238.38,98.37 237.11,99.14 237.45,97.70 236.33,96.74 237.81,96.62" fill="#482a66"/>
<polygon points="242.93,95.25 243.49,96.62 244.97,96.74 243.85,97.70 244.19,99.14 242.93,98.37 241.66,99.14 242.00,97.70 240.88,96.74 242.36,96.62" fill="#482a66"/>
<polygon points="247.48,95.25 248.04,96.62 249.52,96.74 248.40,97.70 248.74,99.14 247.48,98.37 246.21,99.14 246.55,97.70 245.43,96.74 246.91,96.62" fill="#482a66"/>
<polygon points="238.38,101.75 238.94,103.12 240.42,103.24 239.30,104.20 239.64,105.64 238.38,104.87 237.11,105.64 237.45,104.20 236.33,103.24 237.81,103.12" fill="#dba14c"/>
<polygon points="242.93,101.75 243.49,103.12 244.97,103.24 243.85,104.20 244.19,105.64 242.93,104.87 241.66,105.64 242.00,104.20 240.88,103.24 242.36,103.12" fill="#dba14c"/>
<polygon points="252.45,137.85 253.02,139.22 254.49,139.34 253.37,140.30 253.71,141.74 252.45,140.97 251.19,141.74 251.53,140.30 250.41,139.34 251.88,139.22" fill="#482a66"/>
<polygon points="257.00,137.85 257.57,139.22 259.04,139.34 257.92,140.30 258.26,141.74 257.00,140.97 255.74,141.74 256.08,140.30 254.96,139.34 256.43,139.22" fill="#482a66"/>
<polygon points="261.55,137.85 262.12,139.22 263.59,139.34 262.47,140.30 262.81,141.74 261.55,140.97 260.29,141.74 260.63,140.30 259.51,139.34 260.98,139.22" fill="#482a66"/>
<polygon points="254.72,143.85 255.29,145.22 256.77,145.34 255.65,146.30 255.99,147.74 254.72,146.97 253.46,147.74 253.80,146.30 252.68,145.34 254.16,145.22" fill="#dba14c"/>
<polygon points="259.27,143.85 259.84,145.22 261.32,145.34 260.20,146.30 260.54,147.74 259.27,146.97 258.01,147.74 258.35,146.30 257.23,145.34 258.71,145.22" fill="#dba14c"/>
<polygon points="282.88,167.35 283.44,168.72 284.92,168.84 283.80,169.80 284.14,171.24 282.88,170.47 281.61,171.24 281.95,169.80 280.83,168.84 282.31,168.72" fill="#482a66"/>
<polygon points="287.43,167.35 287.99,168.72 289.47,168.84 288.35,169.80 288.69,171.24 287.43,170.47 286.16,171.24 286.50,169.80 285.38,168.84 286.86,168.72" fill="#482a66"/>
<polygon points="291.98,167.35 292.54,168.72 294.02,168.84 292.90,169.80 293.24,171.24 291.98,170.47 290.71,171.24 291.05,169.80 289.93,168.84 291.41,168.72" fill="#482a66"/>
<polygon points="296.53,167.35 297.09,168.72 298.57,168.84 297.45,169.80 297.79,171.24 296.53,170.47 295.26,171.24 295.60,169.80 294.48,168.84 295.96,168.72" fill="#482a66"/>
<polygon points="287.43,173.35 287.99,174.72 289.47,174.84 288.35,175.80 288.69,177.24 287.43,176.47 286.16,177.24 286.50,175.80 285.38,174.84 286.86,174.72" fill="#dba14c"/>
<polygon points="291.98,173.35 292.54,174.72 294.02,174.84 292.90,175.80 293.24,177.24 291.98,176.47 290.71,177.24 291.05,175.80 289.93,174.84 291.41,174.72" fill="#dba14c"/>
<polygon points="317.85,178.65 318.42,180.02 319.89,180.14 318.77,181.10 319.11,182.54 317.85,181.77 316.59,182.54 316.93,181.10 315.81,180.14 317.28,180.02" fill="#482a66"/>
<polygon points="322.40,178.65 322.97,180.02 324.44,180.14 323.32,181.10 323.66,182.54 322.40,181.77 321.14,182.54 321.48,181.10 320.36,180.14 321.83,180.02" fill="#482a66"/>
<polygon points="326.95,178.65 327.52,180.02 328.99,180.14 327.87,181.10 328.21,182.54 326.95,181.77 325.69,182.54 326.03,181.10 324.91,180.14 326.38,180.02" fill="#482a66"/>
<polygon points="320.13,184.15 320.69,185.52 322.17,185.64 321.05,186.60 321.39,188.04 320.13,187.27 318.86,188.04 319.20,186.60 318.08,185.64 319.56,185.52" fill="#dba14c"/>
<polygon points="324.68,184.15 325.24,185.52 326.72,185.64 325.60,186.60 325.94,188.04 324.68,187.27 323.41,188.04 323.75,186.60 322.63,185.64 324.11,185.52" fill="#dba14c"/>
<text x="353.80" y="24.70" font-size="17" text-anchor="start" fill="#000" stroke="#000" stroke-width="0" font-weight="bold"  >B</text>
<text x="425.10" y="47.20" font-size="13.75" text-anchor="middle" fill="#111" stroke="#111" stroke-width="0" font-weight="normal"  >Serum glutamine</text>
<text x="425.10" y="63.20" font-size="13.5" text-anchor="middle" fill="#111" stroke="#111" stroke-width="0" font-weight="normal"  >(mM)</text>
<line x1="370.20" y1="87.20" x2="370.20" y2="256.10" stroke="#111" stroke-width="1.5" />
<line x1="366.00" y1="255.40" x2="479.50" y2="255.40" stroke="#111" stroke-width="1.5" />
<line x1="365.60" y1="255.40" x2="370.20" y2="255.40" stroke="#111" stroke-width="1.3" />
<text x="361.00" y="259.10" font-size="11.3" text-anchor="end" fill="#111" stroke="#111" stroke-width="0" font-weight="normal"  >0</text>
<line x1="365.60" y1="214.60" x2="370.20" y2="214.60" stroke="#111" stroke-width="1.3" />
<text x="361.00" y="218.30" font-size="11.3" text-anchor="end" fill="#111" stroke="#111" stroke-width="0" font-weight="normal"  >2</text>
<line x1="365.60" y1="173.80" x2="370.20" y2="173.80" stroke="#111" stroke-width="1.3" />
<text x="361.00" y="177.50" font-size="11.3" text-anchor="end" fill="#111" stroke="#111" stroke-width="0" font-weight="normal"  >4</text>
<line x1="365.60" y1="133.00" x2="370.20" y2="133.00" stroke="#111" stroke-width="1.3" />
<text x="361.00" y="136.70" font-size="11.3" text-anchor="end" fill="#111" stroke="#111" stroke-width="0" font-weight="normal"  >6</text>
<line x1="365.60" y1="92.20" x2="370.20" y2="92.20" stroke="#111" stroke-width="1.3" />
<text x="361.00" y="95.90" font-size="11.3" text-anchor="end" fill="#111" stroke="#111" stroke-width="0" font-weight="normal"  >8</text>
<rect x="378.70" y="191.6" width="13.4" height="63.80" fill="#9289c6"/>
<line x1="385.40" y1="180.00" x2="385.40" y2="191.60" stroke="#9289c6" stroke-width="1.3" />
<line x1="381.90" y1="180.00" x2="388.90" y2="180.00" stroke="#9289c6" stroke-width="1.3" />
<line x1="385.40" y1="255.40" x2="385.40" y2="260.00" stroke="#111" stroke-width="1.3" />
<rect x="399.20" y="219.2" width="13.4" height="36.20" fill="#c3112f"/>
<line x1="405.90" y1="216.80" x2="405.90" y2="219.20" stroke="#c3112f" stroke-width="1.3" />
<line x1="402.40" y1="216.80" x2="409.40" y2="216.80" stroke="#c3112f" stroke-width="1.3" />
<line x1="405.90" y1="255.40" x2="405.90" y2="260.00" stroke="#111" stroke-width="1.3" />
<rect x="419.70" y="206.5" width="13.4" height="48.90" fill="#3aa7de"/>
<line x1="426.40" y1="202.30" x2="426.40" y2="206.50" stroke="#3aa7de" stroke-width="1.3" />
<line x1="422.90" y1="202.30" x2="429.90" y2="202.30" stroke="#3aa7de" stroke-width="1.3" />
<line x1="426.40" y1="255.40" x2="426.40" y2="260.00" stroke="#111" stroke-width="1.3" />
<rect x="440.20" y="185" width="13.4" height="70.40" fill="#f29108"/>
<line x1="446.90" y1="180.60" x2="446.90" y2="185.00" stroke="#f29108" stroke-width="1.3" />
<line x1="443.40" y1="180.60" x2="450.40" y2="180.60" stroke="#f29108" stroke-width="1.3" />
<line x1="446.90" y1="255.40" x2="446.90" y2="260.00" stroke="#111" stroke-width="1.3" />
<rect x="460.50" y="139" width="13.4" height="116.40" fill="#5b1d68"/>
<line x1="467.20" y1="122.50" x2="467.20" y2="139.00" stroke="#5b1d68" stroke-width="1.3" />
<line x1="463.70" y1="122.50" x2="470.70" y2="122.50" stroke="#5b1d68" stroke-width="1.3" />
<line x1="467.20" y1="255.40" x2="467.20" y2="260.00" stroke="#111" stroke-width="1.3" />
<polygon points="444.62,168.85 445.19,170.22 446.67,170.34 445.55,171.30 445.89,172.74 444.62,171.97 443.36,172.74 443.70,171.30 442.58,170.34 444.06,170.22" fill="#dba14c"/>
<polygon points="449.18,168.85 449.74,170.22 451.22,170.34 450.10,171.30 450.44,172.74 449.18,171.97 447.91,172.74 448.25,171.30 447.13,170.34 448.61,170.22" fill="#dba14c"/>
<polygon points="460.38,111.25 460.94,112.62 462.42,112.74 461.30,113.70 461.64,115.14 460.38,114.37 459.11,115.14 459.45,113.70 458.33,112.74 459.81,112.62" fill="#482a66"/>
<polygon points="464.93,111.25 465.49,112.62 466.97,112.74 465.85,113.70 466.19,115.14 464.93,114.37 463.66,115.14 464.00,113.70 462.88,112.74 464.36,112.62" fill="#482a66"/>
<polygon points="469.48,111.25 470.04,112.62 471.52,112.74 470.40,113.70 470.74,115.14 469.48,114.37 468.21,115.14 468.55,113.70 467.43,112.74 468.91,112.62" fill="#482a66"/>
<polygon points="474.02,111.25 474.59,112.62 476.07,112.74 474.95,113.70 475.29,115.14 474.02,114.37 472.76,115.14 473.10,113.70 471.98,112.74 473.46,112.62" fill="#482a66"/>
<text transform="translate(389.70,272.6) rotate(-45)" font-size="12.5" text-anchor="end" fill="#9289c6" font-style="italic">WT</text>
<text transform="translate(410.20,272.6) rotate(-45)" font-size="12.5" text-anchor="end" fill="#c3112f" >V</text>
<text transform="translate(430.70,272.6) rotate(-45)" font-size="12.5" text-anchor="end" fill="#3aa7de" >3PO</text>
<text transform="translate(451.20,272.6) rotate(-45)" font-size="12.5" text-anchor="end" fill="#f29108" >CB</text>
<text transform="translate(471.50,272.6) rotate(-45)" font-size="12.5" text-anchor="end" fill="#5b1d68" >CB + 3PO</text>
<text x="9.90" y="352.20" font-size="17" text-anchor="start" fill="#000" stroke="#000" stroke-width="0" font-weight="bold"  >C</text>
<text x="88.00" y="373.60" font-size="13.75" text-anchor="start" fill="#111" stroke="#111" stroke-width="0" font-weight="normal"  >Seahorse analysis with total bone marrow cells</text>
<text x="125.60" y="397.00" font-size="11.5" text-anchor="middle" fill="#111" stroke="#111" stroke-width="0" font-weight="normal"  >Glycolysis rate (ECAR)</text>
<line x1="53.60" y1="416.40" x2="53.60" y2="580.50" stroke="#111" stroke-width="1.5" />
<line x1="50.00" y1="579.80" x2="198.00" y2="579.80" stroke="#111" stroke-width="1.5" />
<line x1="49.00" y1="580.00" x2="53.60" y2="580.00" stroke="#111" stroke-width="1.3" />
<text x="44.20" y="583.70" font-size="11.3" text-anchor="end" fill="#111" stroke="#111" stroke-width="0" font-weight="normal"  >0</text>
<line x1="49.00" y1="548.00" x2="53.60" y2="548.00" stroke="#111" stroke-width="1.3" />
<text x="44.20" y="551.70" font-size="11.3" text-anchor="end" fill="#111" stroke="#111" stroke-width="0" font-weight="normal"  >5</text>
<line x1="49.00" y1="516.00" x2="53.60" y2="516.00" stroke="#111" stroke-width="1.3" />
<text x="44.20" y="519.70" font-size="11.3" text-anchor="end" fill="#111" stroke="#111" stroke-width="0" font-weight="normal"  >10</text>
<line x1="49.00" y1="484.00" x2="53.60" y2="484.00" stroke="#111" stroke-width="1.3" />
<text x="44.20" y="487.70" font-size="11.3" text-anchor="end" fill="#111" stroke="#111" stroke-width="0" font-weight="normal"  >15</text>
<line x1="49.00" y1="452.00" x2="53.60" y2="452.00" stroke="#111" stroke-width="1.3" />
<text x="44.20" y="455.70" font-size="11.3" text-anchor="end" fill="#111" stroke="#111" stroke-width="0" font-weight="normal"  >20</text>
<line x1="49.00" y1="420.00" x2="53.60" y2="420.00" stroke="#111" stroke-width="1.3" />
<text x="44.20" y="423.70" font-size="11.3" text-anchor="end" fill="#111" stroke="#111" stroke-width="0" font-weight="normal"  >25</text>
<line x1="60.20" y1="579.80" x2="60.20" y2="584.00" stroke="#111" stroke-width="1.3" />
<text x="60.20" y="599.20" font-size="11.3" text-anchor="middle" fill="#111" stroke="#111" stroke-width="0" font-weight="normal"  >0</text>
<line x1="73.50" y1="579.80" x2="73.50" y2="582.00" stroke="#111" stroke-width="1.3" />
<line x1="86.80" y1="579.80" x2="86.80" y2="584.00" stroke="#111" stroke-width="1.3" />
<text x="86.80" y="599.20" font-size="11.3" text-anchor="middle" fill="#111" stroke="#111" stroke-width="0" font-weight="normal"  >20</text>
<line x1="100.10" y1="579.80" x2="100.10" y2="582.00" stroke="#111" stroke-width="1.3" />
<line x1="113.40" y1="579.80" x2="113.40" y2="584.00" stroke="#111" stroke-width="1.3" />
<text x="113.40" y="599.20" font-size="11.3" text-anchor="middle" fill="#111" stroke="#111" stroke-width="0" font-weight="normal"  >40</text>
<line x1="126.70" y1="579.80" x2="126.70" y2="582.00" stroke="#111" stroke-width="1.3" />
<line x1="140.00" y1="579.80" x2="140.00" y2="584.00" stroke="#111" stroke-width="1.3" />
<text x="140.00" y="599.20" font-size="11.3" text-anchor="middle" fill="#111" stroke="#111" stroke-width="0" font-weight="normal"  >60</text>
<line x1="153.30" y1="579.80" x2="153.30" y2="582.00" stroke="#111" stroke-width="1.3" />
<line x1="166.60" y1="579.80" x2="166.60" y2="584.00" stroke="#111" stroke-width="1.3" />
<text x="166.60" y="599.20" font-size="11.3" text-anchor="middle" fill="#111" stroke="#111" stroke-width="0" font-weight="normal"  >80</text>
<line x1="179.90" y1="579.80" x2="179.90" y2="582.00" stroke="#111" stroke-width="1.3" />
<line x1="193.20" y1="579.80" x2="193.20" y2="584.00" stroke="#111" stroke-width="1.3" />
<text x="193.20" y="599.20" font-size="11.3" text-anchor="middle" fill="#111" stroke="#111" stroke-width="0" font-weight="normal"  >100</text>
<text transform="translate(125.80,618.60) scale(0.7,1)" font-size="14" text-anchor="middle" fill="#111" stroke="#111" stroke-width="0.5" letter-spacing="0">Minutes</text>
<text transform="translate(22.2,498) rotate(-90) scale(0.74,1)" font-size="13.6" text-anchor="middle" fill="#111" stroke="#111" stroke-width="0.5">mPh/min</text>
<text x="86.80" y="448.80" font-size="11.5" text-anchor="middle" fill="#111" stroke="#111" stroke-width="0" font-weight="normal"  >Glucose</text>
<text x="121.00" y="432.50" font-size="11.5" text-anchor="middle" fill="#111" stroke="#111" stroke-width="0" font-weight="normal"  >Oligomycin</text>
<text x="156.50" y="417.00" font-size="11.5" text-anchor="middle" fill="#111" stroke="#111" stroke-width="0" font-weight="normal"  >2-DG</text>
<line x1="87" y1="456" x2="87" y2="472.0" stroke="#111" stroke-width="1.4"/>
<polygon points="84.0,471.0 90.0,471.0 87,478.5" fill="#111"/>
<line x1="121.3" y1="440" x2="121.3" y2="455.8" stroke="#111" stroke-width="1.4"/>
<polygon points="118.3,454.8 124.3,454.8 121.3,462.3" fill="#111"/>
<line x1="157" y1="425" x2="157" y2="439.8" stroke="#111" stroke-width="1.4"/>
<polygon points="154.0,438.8 160.0,438.8 157,446.3" fill="#111"/>
<line x1="61.93" y1="562.08" x2="61.93" y2="565.92" stroke="#9289c6" stroke-width="1.2"/>
<line x1="59.68" y1="562.08" x2="64.18" y2="562.08" stroke="#9289c6" stroke-width="1.2"/>
<line x1="59.68" y1="565.92" x2="64.18" y2="565.92" stroke="#9289c6" stroke-width="1.2"/>
<line x1="70.57" y1="564.64" x2="70.57" y2="568.48" stroke="#9289c6" stroke-width="1.2"/>
<line x1="68.32" y1="564.64" x2="72.82" y2="564.64" stroke="#9289c6" stroke-width="1.2"/>
<line x1="68.32" y1="568.48" x2="72.82" y2="568.48" stroke="#9289c6" stroke-width="1.2"/>
<line x1="79.22" y1="565.28" x2="79.22" y2="569.12" stroke="#9289c6" stroke-width="1.2"/>
<line x1="76.97" y1="565.28" x2="81.47" y2="565.28" stroke="#9289c6" stroke-width="1.2"/>
<line x1="76.97" y1="569.12" x2="81.47" y2="569.12" stroke="#9289c6" stroke-width="1.2"/>
<line x1="87.86" y1="567.20" x2="87.86" y2="571.04" stroke="#9289c6" stroke-width="1.2"/>
<line x1="85.61" y1="567.20" x2="90.11" y2="567.20" stroke="#9289c6" stroke-width="1.2"/>
<line x1="85.61" y1="571.04" x2="90.11" y2="571.04" stroke="#9289c6" stroke-width="1.2"/>
<line x1="96.51" y1="530.08" x2="96.51" y2="537.76" stroke="#9289c6" stroke-width="1.2"/>
<line x1="94.26" y1="530.08" x2="98.76" y2="530.08" stroke="#9289c6" stroke-width="1.2"/>
<line x1="94.26" y1="537.76" x2="98.76" y2="537.76" stroke="#9289c6" stroke-width="1.2"/>
<line x1="105.15" y1="532.00" x2="105.15" y2="539.68" stroke="#9289c6" stroke-width="1.2"/>
<line x1="102.90" y1="532.00" x2="107.40" y2="532.00" stroke="#9289c6" stroke-width="1.2"/>
<line x1="102.90" y1="539.68" x2="107.40" y2="539.68" stroke="#9289c6" stroke-width="1.2"/>
<line x1="113.80" y1="532.00" x2="113.80" y2="539.68" stroke="#9289c6" stroke-width="1.2"/>
<line x1="111.55" y1="532.00" x2="116.05" y2="532.00" stroke="#9289c6" stroke-width="1.2"/>
<line x1="111.55" y1="539.68" x2="116.05" y2="539.68" stroke="#9289c6" stroke-width="1.2"/>
<line x1="122.44" y1="533.28" x2="122.44" y2="540.96" stroke="#9289c6" stroke-width="1.2"/>
<line x1="120.19" y1="533.28" x2="124.69" y2="533.28" stroke="#9289c6" stroke-width="1.2"/>
<line x1="120.19" y1="540.96" x2="124.69" y2="540.96" stroke="#9289c6" stroke-width="1.2"/>
<line x1="131.09" y1="531.36" x2="131.09" y2="539.04" stroke="#9289c6" stroke-width="1.2"/>
<line x1="128.84" y1="531.36" x2="133.34" y2="531.36" stroke="#9289c6" stroke-width="1.2"/>
<line x1="128.84" y1="539.04" x2="133.34" y2="539.04" stroke="#9289c6" stroke-width="1.2"/>
<line x1="139.73" y1="531.36" x2="139.73" y2="539.04" stroke="#9289c6" stroke-width="1.2"/>
<line x1="137.48" y1="531.36" x2="141.98" y2="531.36" stroke="#9289c6" stroke-width="1.2"/>
<line x1="137.48" y1="539.04" x2="141.98" y2="539.04" stroke="#9289c6" stroke-width="1.2"/>
<line x1="148.38" y1="532.64" x2="148.38" y2="540.32" stroke="#9289c6" stroke-width="1.2"/>
<line x1="146.13" y1="532.64" x2="150.63" y2="532.64" stroke="#9289c6" stroke-width="1.2"/>
<line x1="146.13" y1="540.32" x2="150.63" y2="540.32" stroke="#9289c6" stroke-width="1.2"/>
<line x1="157.02" y1="532.64" x2="157.02" y2="540.32" stroke="#9289c6" stroke-width="1.2"/>
<line x1="154.77" y1="532.64" x2="159.27" y2="532.64" stroke="#9289c6" stroke-width="1.2"/>
<line x1="154.77" y1="540.32" x2="159.27" y2="540.32" stroke="#9289c6" stroke-width="1.2"/>
<line x1="165.67" y1="551.20" x2="165.67" y2="555.04" stroke="#9289c6" stroke-width="1.2"/>
<line x1="163.42" y1="551.20" x2="167.92" y2="551.20" stroke="#9289c6" stroke-width="1.2"/>
<line x1="163.42" y1="555.04" x2="167.92" y2="555.04" stroke="#9289c6" stroke-width="1.2"/>
<line x1="174.31" y1="564.00" x2="174.31" y2="567.84" stroke="#9289c6" stroke-width="1.2"/>
<line x1="172.06" y1="564.00" x2="176.56" y2="564.00" stroke="#9289c6" stroke-width="1.2"/>
<line x1="172.06" y1="567.84" x2="176.56" y2="567.84" stroke="#9289c6" stroke-width="1.2"/>
<line x1="182.96" y1="567.20" x2="182.96" y2="571.04" stroke="#9289c6" stroke-width="1.2"/>
<line x1="180.71" y1="567.20" x2="185.21" y2="567.20" stroke="#9289c6" stroke-width="1.2"/>
<line x1="180.71" y1="571.04" x2="185.21" y2="571.04" stroke="#9289c6" stroke-width="1.2"/>
<line x1="191.60" y1="569.76" x2="191.60" y2="573.60" stroke="#9289c6" stroke-width="1.2"/>
<line x1="189.35" y1="569.76" x2="193.85" y2="569.76" stroke="#9289c6" stroke-width="1.2"/>
<line x1="189.35" y1="573.60" x2="193.85" y2="573.60" stroke="#9289c6" stroke-width="1.2"/>
<path d="M61.93,564.00 L70.57,566.56 L79.22,567.20 L87.86,569.12 L96.51,533.92 L105.15,535.84 L113.80,535.84 L122.44,537.12 L131.09,535.20 L139.73,535.20 L148.38,536.48 L157.02,536.48 L165.67,553.12 L174.31,565.92 L182.96,569.12 L191.60,571.68" fill="none" stroke="#9289c6" stroke-width="1.3" stroke-linejoin="round"/>
<circle cx="61.93" cy="564.00" r="2.5" fill="#fff" stroke="#9289c6" stroke-width="1.1"/>
<rect x="68.07" y="564.06" width="5.00" height="5.00" fill="#aaa4d8" stroke="#9289c6" stroke-width="1.1"/>
<line x1="70.57" y1="564.06" x2="70.57" y2="569.06" stroke="#9289c6" stroke-width="1.1"/>
<rect x="76.72" y="564.70" width="5.00" height="5.00" fill="#aaa4d8" stroke="#9289c6" stroke-width="1.1"/>
<line x1="79.22" y1="564.70" x2="79.22" y2="569.70" stroke="#9289c6" stroke-width="1.1"/>
<circle cx="87.86" cy="569.12" r="2.5" fill="#fff" stroke="#9289c6" stroke-width="1.1"/>
<rect x="94.01" y="531.42" width="5.00" height="5.00" fill="#aaa4d8" stroke="#9289c6" stroke-width="1.1"/>
<line x1="96.51" y1="531.42" x2="96.51" y2="536.42" stroke="#9289c6" stroke-width="1.1"/>
<rect x="102.65" y="533.34" width="5.00" height="5.00" fill="#aaa4d8" stroke="#9289c6" stroke-width="1.1"/>
<line x1="105.15" y1="533.34" x2="105.15" y2="538.34" stroke="#9289c6" stroke-width="1.1"/>
<rect x="111.30" y="533.34" width="5.00" height="5.00" fill="#aaa4d8" stroke="#9289c6" stroke-width="1.1"/>
<line x1="113.80" y1="533.34" x2="113.80" y2="538.34" stroke="#9289c6" stroke-width="1.1"/>
<rect x="119.94" y="534.62" width="5.00" height="5.00" fill="#aaa4d8" stroke="#9289c6" stroke-width="1.1"/>
<line x1="122.44" y1="534.62" x2="122.44" y2="539.62" stroke="#9289c6" stroke-width="1.1"/>
<rect x="128.59" y="532.70" width="5.00" height="5.00" fill="#aaa4d8" stroke="#9289c6" stroke-width="1.1"/>
<line x1="131.09" y1="532.70" x2="131.09" y2="537.70" stroke="#9289c6" stroke-width="1.1"/>
<rect x="137.23" y="532.70" width="5.00" height="5.00" fill="#aaa4d8" stroke="#9289c6" stroke-width="1.1"/>
<line x1="139.73" y1="532.70" x2="139.73" y2="537.70" stroke="#9289c6" stroke-width="1.1"/>
<rect x="145.88" y="533.98" width="5.00" height="5.00" fill="#aaa4d8" stroke="#9289c6" stroke-width="1.1"/>
<line x1="148.38" y1="533.98" x2="148.38" y2="538.98" stroke="#9289c6" stroke-width="1.1"/>
<rect x="154.52" y="533.98" width="5.00" height="5.00" fill="#aaa4d8" stroke="#9289c6" stroke-width="1.1"/>
<line x1="157.02" y1="533.98" x2="157.02" y2="538.98" stroke="#9289c6" stroke-width="1.1"/>
<circle cx="165.67" cy="553.12" r="2.5" fill="#fff" stroke="#9289c6" stroke-width="1.1"/>
<circle cx="174.31" cy="565.92" r="2.5" fill="#fff" stroke="#9289c6" stroke-width="1.1"/>
<circle cx="182.96" cy="569.12" r="2.5" fill="#fff" stroke="#9289c6" stroke-width="1.1"/>
<circle cx="191.60" cy="571.68" r="2.5" fill="#fff" stroke="#9289c6" stroke-width="1.1"/>
<line x1="61.93" y1="562.08" x2="61.93" y2="565.92" stroke="#5b1d68" stroke-width="1.2"/>
<line x1="59.68" y1="562.08" x2="64.18" y2="562.08" stroke="#5b1d68" stroke-width="1.2"/>
<line x1="59.68" y1="565.92" x2="64.18" y2="565.92" stroke="#5b1d68" stroke-width="1.2"/>
<line x1="70.57" y1="561.44" x2="70.57" y2="565.28" stroke="#5b1d68" stroke-width="1.2"/>
<line x1="68.32" y1="561.44" x2="72.82" y2="561.44" stroke="#5b1d68" stroke-width="1.2"/>
<line x1="68.32" y1="565.28" x2="72.82" y2="565.28" stroke="#5b1d68" stroke-width="1.2"/>
<line x1="79.22" y1="560.80" x2="79.22" y2="564.64" stroke="#5b1d68" stroke-width="1.2"/>
<line x1="76.97" y1="560.80" x2="81.47" y2="560.80" stroke="#5b1d68" stroke-width="1.2"/>
<line x1="76.97" y1="564.64" x2="81.47" y2="564.64" stroke="#5b1d68" stroke-width="1.2"/>
<line x1="87.86" y1="559.52" x2="87.86" y2="563.36" stroke="#5b1d68" stroke-width="1.2"/>
<line x1="85.61" y1="559.52" x2="90.11" y2="559.52" stroke="#5b1d68" stroke-width="1.2"/>
<line x1="85.61" y1="563.36" x2="90.11" y2="563.36" stroke="#5b1d68" stroke-width="1.2"/>
<line x1="96.51" y1="519.20" x2="96.51" y2="529.44" stroke="#5b1d68" stroke-width="1.2"/>
<line x1="94.26" y1="519.20" x2="98.76" y2="519.20" stroke="#5b1d68" stroke-width="1.2"/>
<line x1="94.26" y1="529.44" x2="98.76" y2="529.44" stroke="#5b1d68" stroke-width="1.2"/>
<line x1="105.15" y1="521.12" x2="105.15" y2="531.36" stroke="#5b1d68" stroke-width="1.2"/>
<line x1="102.90" y1="521.12" x2="107.40" y2="521.12" stroke="#5b1d68" stroke-width="1.2"/>
<line x1="102.90" y1="531.36" x2="107.40" y2="531.36" stroke="#5b1d68" stroke-width="1.2"/>
<line x1="113.80" y1="523.04" x2="113.80" y2="533.28" stroke="#5b1d68" stroke-width="1.2"/>
<line x1="111.55" y1="523.04" x2="116.05" y2="523.04" stroke="#5b1d68" stroke-width="1.2"/>
<line x1="111.55" y1="533.28" x2="116.05" y2="533.28" stroke="#5b1d68" stroke-width="1.2"/>
<line x1="122.44" y1="526.24" x2="122.44" y2="536.48" stroke="#5b1d68" stroke-width="1.2"/>
<line x1="120.19" y1="526.24" x2="124.69" y2="526.24" stroke="#5b1d68" stroke-width="1.2"/>
<line x1="120.19" y1="536.48" x2="124.69" y2="536.48" stroke="#5b1d68" stroke-width="1.2"/>
<line x1="131.09" y1="505.76" x2="131.09" y2="516.00" stroke="#5b1d68" stroke-width="1.2"/>
<line x1="128.84" y1="505.76" x2="133.34" y2="505.76" stroke="#5b1d68" stroke-width="1.2"/>
<line x1="128.84" y1="516.00" x2="133.34" y2="516.00" stroke="#5b1d68" stroke-width="1.2"/>
<line x1="139.73" y1="504.48" x2="139.73" y2="514.72" stroke="#5b1d68" stroke-width="1.2"/>
<line x1="137.48" y1="504.48" x2="141.98" y2="504.48" stroke="#5b1d68" stroke-width="1.2"/>
<line x1="137.48" y1="514.72" x2="141.98" y2="514.72" stroke="#5b1d68" stroke-width="1.2"/>
<line x1="148.38" y1="503.84" x2="148.38" y2="514.08" stroke="#5b1d68" stroke-width="1.2"/>
<line x1="146.13" y1="503.84" x2="150.63" y2="503.84" stroke="#5b1d68" stroke-width="1.2"/>
<line x1="146.13" y1="514.08" x2="150.63" y2="514.08" stroke="#5b1d68" stroke-width="1.2"/>
<line x1="157.02" y1="503.84" x2="157.02" y2="514.08" stroke="#5b1d68" stroke-width="1.2"/>
<line x1="154.77" y1="503.84" x2="159.27" y2="503.84" stroke="#5b1d68" stroke-width="1.2"/>
<line x1="154.77" y1="514.08" x2="159.27" y2="514.08" stroke="#5b1d68" stroke-width="1.2"/>
<line x1="165.67" y1="538.40" x2="165.67" y2="546.08" stroke="#5b1d68" stroke-width="1.2"/>
<line x1="163.42" y1="538.40" x2="167.92" y2="538.40" stroke="#5b1d68" stroke-width="1.2"/>
<line x1="163.42" y1="546.08" x2="167.92" y2="546.08" stroke="#5b1d68" stroke-width="1.2"/>
<line x1="174.31" y1="551.84" x2="174.31" y2="559.52" stroke="#5b1d68" stroke-width="1.2"/>
<line x1="172.06" y1="551.84" x2="176.56" y2="551.84" stroke="#5b1d68" stroke-width="1.2"/>
<line x1="172.06" y1="559.52" x2="176.56" y2="559.52" stroke="#5b1d68" stroke-width="1.2"/>
<line x1="182.96" y1="555.68" x2="182.96" y2="563.36" stroke="#5b1d68" stroke-width="1.2"/>
<line x1="180.71" y1="555.68" x2="185.21" y2="555.68" stroke="#5b1d68" stroke-width="1.2"/>
<line x1="180.71" y1="563.36" x2="185.21" y2="563.36" stroke="#5b1d68" stroke-width="1.2"/>
<line x1="191.60" y1="558.24" x2="191.60" y2="565.92" stroke="#5b1d68" stroke-width="1.2"/>
<line x1="189.35" y1="558.24" x2="193.85" y2="558.24" stroke="#5b1d68" stroke-width="1.2"/>
<line x1="189.35" y1="565.92" x2="193.85" y2="565.92" stroke="#5b1d68" stroke-width="1.2"/>
<path d="M61.93,564.00 L70.57,563.36 L79.22,562.72 L87.86,561.44 L96.51,524.32 L105.15,526.24 L113.80,528.16 L122.44,531.36 L131.09,510.88 L139.73,509.60 L148.38,508.96 L157.02,508.96 L165.67,542.24 L174.31,555.68 L182.96,559.52 L191.60,562.08" fill="none" stroke="#5b1d68" stroke-width="1.6" stroke-linejoin="round"/>
<circle cx="61.93" cy="564.00" r="2.6" fill="#5b1d68"/>
<circle cx="70.57" cy="563.36" r="2.6" fill="#5b1d68"/>
<circle cx="79.22" cy="562.72" r="2.6" fill="#5b1d68"/>
<circle cx="87.86" cy="561.44" r="2.6" fill="#5b1d68"/>
<circle cx="96.51" cy="524.32" r="2.6" fill="#5b1d68"/>
<circle cx="105.15" cy="526.24" r="2.6" fill="#5b1d68"/>
<circle cx="113.80" cy="528.16" r="2.6" fill="#5b1d68"/>
<circle cx="122.44" cy="531.36" r="2.6" fill="#5b1d68"/>
<circle cx="131.09" cy="510.88" r="2.6" fill="#5b1d68"/>
<circle cx="139.73" cy="509.60" r="2.6" fill="#5b1d68"/>
<circle cx="148.38" cy="508.96" r="2.6" fill="#5b1d68"/>
<circle cx="157.02" cy="508.96" r="2.6" fill="#5b1d68"/>
<circle cx="165.67" cy="542.24" r="2.6" fill="#5b1d68"/>
<circle cx="174.31" cy="555.68" r="2.6" fill="#5b1d68"/>
<circle cx="182.96" cy="559.52" r="2.6" fill="#5b1d68"/>
<circle cx="191.60" cy="562.08" r="2.6" fill="#5b1d68"/>
<line x1="61.93" y1="562.08" x2="61.93" y2="565.92" stroke="#3aa7de" stroke-width="1.2"/>
<line x1="59.68" y1="562.08" x2="64.18" y2="562.08" stroke="#3aa7de" stroke-width="1.2"/>
<line x1="59.68" y1="565.92" x2="64.18" y2="565.92" stroke="#3aa7de" stroke-width="1.2"/>
<line x1="70.57" y1="562.08" x2="70.57" y2="565.92" stroke="#3aa7de" stroke-width="1.2"/>
<line x1="68.32" y1="562.08" x2="72.82" y2="562.08" stroke="#3aa7de" stroke-width="1.2"/>
<line x1="68.32" y1="565.92" x2="72.82" y2="565.92" stroke="#3aa7de" stroke-width="1.2"/>
<line x1="79.22" y1="562.08" x2="79.22" y2="565.92" stroke="#3aa7de" stroke-width="1.2"/>
<line x1="76.97" y1="562.08" x2="81.47" y2="562.08" stroke="#3aa7de" stroke-width="1.2"/>
<line x1="76.97" y1="565.92" x2="81.47" y2="565.92" stroke="#3aa7de" stroke-width="1.2"/>
<line x1="87.86" y1="562.08" x2="87.86" y2="565.92" stroke="#3aa7de" stroke-width="1.2"/>
<line x1="85.61" y1="562.08" x2="90.11" y2="562.08" stroke="#3aa7de" stroke-width="1.2"/>
<line x1="85.61" y1="565.92" x2="90.11" y2="565.92" stroke="#3aa7de" stroke-width="1.2"/>
<line x1="96.51" y1="482.08" x2="96.51" y2="493.60" stroke="#3aa7de" stroke-width="1.2"/>
<line x1="94.26" y1="482.08" x2="98.76" y2="482.08" stroke="#3aa7de" stroke-width="1.2"/>
<line x1="94.26" y1="493.60" x2="98.76" y2="493.60" stroke="#3aa7de" stroke-width="1.2"/>
<line x1="105.15" y1="482.08" x2="105.15" y2="493.60" stroke="#3aa7de" stroke-width="1.2"/>
<line x1="102.90" y1="482.08" x2="107.40" y2="482.08" stroke="#3aa7de" stroke-width="1.2"/>
<line x1="102.90" y1="493.60" x2="107.40" y2="493.60" stroke="#3aa7de" stroke-width="1.2"/>
<line x1="113.80" y1="484.00" x2="113.80" y2="495.52" stroke="#3aa7de" stroke-width="1.2"/>
<line x1="111.55" y1="484.00" x2="116.05" y2="484.00" stroke="#3aa7de" stroke-width="1.2"/>
<line x1="111.55" y1="495.52" x2="116.05" y2="495.52" stroke="#3aa7de" stroke-width="1.2"/>
<line x1="122.44" y1="487.20" x2="122.44" y2="498.72" stroke="#3aa7de" stroke-width="1.2"/>
<line x1="120.19" y1="487.20" x2="124.69" y2="487.20" stroke="#3aa7de" stroke-width="1.2"/>
<line x1="120.19" y1="498.72" x2="124.69" y2="498.72" stroke="#3aa7de" stroke-width="1.2"/>
<line x1="131.09" y1="467.36" x2="131.09" y2="478.88" stroke="#3aa7de" stroke-width="1.2"/>
<line x1="128.84" y1="467.36" x2="133.34" y2="467.36" stroke="#3aa7de" stroke-width="1.2"/>
<line x1="128.84" y1="478.88" x2="133.34" y2="478.88" stroke="#3aa7de" stroke-width="1.2"/>
<line x1="139.73" y1="460.96" x2="139.73" y2="472.48" stroke="#3aa7de" stroke-width="1.2"/>
<line x1="137.48" y1="460.96" x2="141.98" y2="460.96" stroke="#3aa7de" stroke-width="1.2"/>
<line x1="137.48" y1="472.48" x2="141.98" y2="472.48" stroke="#3aa7de" stroke-width="1.2"/>
<line x1="148.38" y1="458.72" x2="148.38" y2="470.24" stroke="#3aa7de" stroke-width="1.2"/>
<line x1="146.13" y1="458.72" x2="150.63" y2="458.72" stroke="#3aa7de" stroke-width="1.2"/>
<line x1="146.13" y1="470.24" x2="150.63" y2="470.24" stroke="#3aa7de" stroke-width="1.2"/>
<line x1="157.02" y1="458.40" x2="157.02" y2="469.92" stroke="#3aa7de" stroke-width="1.2"/>
<line x1="154.77" y1="458.40" x2="159.27" y2="458.40" stroke="#3aa7de" stroke-width="1.2"/>
<line x1="154.77" y1="469.92" x2="159.27" y2="469.92" stroke="#3aa7de" stroke-width="1.2"/>
<line x1="165.67" y1="531.36" x2="165.67" y2="539.04" stroke="#3aa7de" stroke-width="1.2"/>
<line x1="163.42" y1="531.36" x2="167.92" y2="531.36" stroke="#3aa7de" stroke-width="1.2"/>
<line x1="163.42" y1="539.04" x2="167.92" y2="539.04" stroke="#3aa7de" stroke-width="1.2"/>
<line x1="174.31" y1="545.76" x2="174.31" y2="553.44" stroke="#3aa7de" stroke-width="1.2"/>
<line x1="172.06" y1="545.76" x2="176.56" y2="545.76" stroke="#3aa7de" stroke-width="1.2"/>
<line x1="172.06" y1="553.44" x2="176.56" y2="553.44" stroke="#3aa7de" stroke-width="1.2"/>
<line x1="182.96" y1="549.92" x2="182.96" y2="557.60" stroke="#3aa7de" stroke-width="1.2"/>
<line x1="180.71" y1="549.92" x2="185.21" y2="549.92" stroke="#3aa7de" stroke-width="1.2"/>
<line x1="180.71" y1="557.60" x2="185.21" y2="557.60" stroke="#3aa7de" stroke-width="1.2"/>
<line x1="191.60" y1="552.48" x2="191.60" y2="560.16" stroke="#3aa7de" stroke-width="1.2"/>
<line x1="189.35" y1="552.48" x2="193.85" y2="552.48" stroke="#3aa7de" stroke-width="1.2"/>
<line x1="189.35" y1="560.16" x2="193.85" y2="560.16" stroke="#3aa7de" stroke-width="1.2"/>
<path d="M61.93,564.00 L70.57,564.00 L79.22,564.00 L87.86,564.00 L96.51,487.84 L105.15,487.84 L113.80,489.76 L122.44,492.96 L131.09,473.12 L139.73,466.72 L148.38,464.48 L157.02,464.16 L165.67,535.20 L174.31,549.60 L182.96,553.76 L191.60,556.32" fill="none" stroke="#3aa7de" stroke-width="1.6" stroke-linejoin="round"/>
<circle cx="61.93" cy="564.00" r="2.6" fill="#3aa7de"/>
<circle cx="70.57" cy="564.00" r="2.6" fill="#3aa7de"/>
<circle cx="79.22" cy="564.00" r="2.6" fill="#3aa7de"/>
<circle cx="87.86" cy="564.00" r="2.6" fill="#3aa7de"/>
<circle cx="96.51" cy="487.84" r="2.6" fill="#3aa7de"/>
<circle cx="105.15" cy="487.84" r="2.6" fill="#3aa7de"/>
<circle cx="113.80" cy="489.76" r="2.6" fill="#3aa7de"/>
<circle cx="122.44" cy="492.96" r="2.6" fill="#3aa7de"/>
<circle cx="131.09" cy="473.12" r="2.6" fill="#3aa7de"/>
<circle cx="139.73" cy="466.72" r="2.6" fill="#3aa7de"/>
<circle cx="148.38" cy="464.48" r="2.6" fill="#3aa7de"/>
<circle cx="157.02" cy="464.16" r="2.6" fill="#3aa7de"/>
<circle cx="165.67" cy="535.20" r="2.6" fill="#3aa7de"/>
<circle cx="174.31" cy="549.60" r="2.6" fill="#3aa7de"/>
<circle cx="182.96" cy="553.76" r="2.6" fill="#3aa7de"/>
<circle cx="191.60" cy="556.32" r="2.6" fill="#3aa7de"/>
<line x1="61.93" y1="562.08" x2="61.93" y2="565.92" stroke="#f29108" stroke-width="1.2"/>
<line x1="59.68" y1="562.08" x2="64.18" y2="562.08" stroke="#f29108" stroke-width="1.2"/>
<line x1="59.68" y1="565.92" x2="64.18" y2="565.92" stroke="#f29108" stroke-width="1.2"/>
<line x1="70.57" y1="561.44" x2="70.57" y2="565.28" stroke="#f29108" stroke-width="1.2"/>
<line x1="68.32" y1="561.44" x2="72.82" y2="561.44" stroke="#f29108" stroke-width="1.2"/>
<line x1="68.32" y1="565.28" x2="72.82" y2="565.28" stroke="#f29108" stroke-width="1.2"/>
<line x1="79.22" y1="562.72" x2="79.22" y2="566.56" stroke="#f29108" stroke-width="1.2"/>
<line x1="76.97" y1="562.72" x2="81.47" y2="562.72" stroke="#f29108" stroke-width="1.2"/>
<line x1="76.97" y1="566.56" x2="81.47" y2="566.56" stroke="#f29108" stroke-width="1.2"/>
<line x1="87.86" y1="562.72" x2="87.86" y2="566.56" stroke="#f29108" stroke-width="1.2"/>
<line x1="85.61" y1="562.72" x2="90.11" y2="562.72" stroke="#f29108" stroke-width="1.2"/>
<line x1="85.61" y1="566.56" x2="90.11" y2="566.56" stroke="#f29108" stroke-width="1.2"/>
<line x1="96.51" y1="510.24" x2="96.51" y2="528.16" stroke="#f29108" stroke-width="1.2"/>
<line x1="94.26" y1="510.24" x2="98.76" y2="510.24" stroke="#f29108" stroke-width="1.2"/>
<line x1="94.26" y1="528.16" x2="98.76" y2="528.16" stroke="#f29108" stroke-width="1.2"/>
<line x1="105.15" y1="512.16" x2="105.15" y2="530.08" stroke="#f29108" stroke-width="1.2"/>
<line x1="102.90" y1="512.16" x2="107.40" y2="512.16" stroke="#f29108" stroke-width="1.2"/>
<line x1="102.90" y1="530.08" x2="107.40" y2="530.08" stroke="#f29108" stroke-width="1.2"/>
<line x1="113.80" y1="514.08" x2="113.80" y2="532.00" stroke="#f29108" stroke-width="1.2"/>
<line x1="111.55" y1="514.08" x2="116.05" y2="514.08" stroke="#f29108" stroke-width="1.2"/>
<line x1="111.55" y1="532.00" x2="116.05" y2="532.00" stroke="#f29108" stroke-width="1.2"/>
<line x1="122.44" y1="517.28" x2="122.44" y2="535.20" stroke="#f29108" stroke-width="1.2"/>
<line x1="120.19" y1="517.28" x2="124.69" y2="517.28" stroke="#f29108" stroke-width="1.2"/>
<line x1="120.19" y1="535.20" x2="124.69" y2="535.20" stroke="#f29108" stroke-width="1.2"/>
<line x1="131.09" y1="498.08" x2="131.09" y2="516.00" stroke="#f29108" stroke-width="1.2"/>
<line x1="128.84" y1="498.08" x2="133.34" y2="498.08" stroke="#f29108" stroke-width="1.2"/>
<line x1="128.84" y1="516.00" x2="133.34" y2="516.00" stroke="#f29108" stroke-width="1.2"/>
<line x1="139.73" y1="494.88" x2="139.73" y2="512.80" stroke="#f29108" stroke-width="1.2"/>
<line x1="137.48" y1="494.88" x2="141.98" y2="494.88" stroke="#f29108" stroke-width="1.2"/>
<line x1="137.48" y1="512.80" x2="141.98" y2="512.80" stroke="#f29108" stroke-width="1.2"/>
<line x1="148.38" y1="492.96" x2="148.38" y2="510.88" stroke="#f29108" stroke-width="1.2"/>
<line x1="146.13" y1="492.96" x2="150.63" y2="492.96" stroke="#f29108" stroke-width="1.2"/>
<line x1="146.13" y1="510.88" x2="150.63" y2="510.88" stroke="#f29108" stroke-width="1.2"/>
<line x1="157.02" y1="491.68" x2="157.02" y2="509.60" stroke="#f29108" stroke-width="1.2"/>
<line x1="154.77" y1="491.68" x2="159.27" y2="491.68" stroke="#f29108" stroke-width="1.2"/>
<line x1="154.77" y1="509.60" x2="159.27" y2="509.60" stroke="#f29108" stroke-width="1.2"/>
<line x1="165.67" y1="528.16" x2="165.67" y2="535.84" stroke="#f29108" stroke-width="1.2"/>
<line x1="163.42" y1="528.16" x2="167.92" y2="528.16" stroke="#f29108" stroke-width="1.2"/>
<line x1="163.42" y1="535.84" x2="167.92" y2="535.84" stroke="#f29108" stroke-width="1.2"/>
<line x1="174.31" y1="542.88" x2="174.31" y2="550.56" stroke="#f29108" stroke-width="1.2"/>
<line x1="172.06" y1="542.88" x2="176.56" y2="542.88" stroke="#f29108" stroke-width="1.2"/>
<line x1="172.06" y1="550.56" x2="176.56" y2="550.56" stroke="#f29108" stroke-width="1.2"/>
<line x1="182.96" y1="548.00" x2="182.96" y2="555.68" stroke="#f29108" stroke-width="1.2"/>
<line x1="180.71" y1="548.00" x2="185.21" y2="548.00" stroke="#f29108" stroke-width="1.2"/>
<line x1="180.71" y1="555.68" x2="185.21" y2="555.68" stroke="#f29108" stroke-width="1.2"/>
<line x1="191.60" y1="551.20" x2="191.60" y2="558.88" stroke="#f29108" stroke-width="1.2"/>
<line x1="189.35" y1="551.20" x2="193.85" y2="551.20" stroke="#f29108" stroke-width="1.2"/>
<line x1="189.35" y1="558.88" x2="193.85" y2="558.88" stroke="#f29108" stroke-width="1.2"/>
<path d="M61.93,564.00 L70.57,563.36 L79.22,564.64 L87.86,564.64 L96.51,519.20 L105.15,521.12 L113.80,523.04 L122.44,526.24 L131.09,507.04 L139.73,503.84 L148.38,501.92 L157.02,500.64 L165.67,532.00 L174.31,546.72 L182.96,551.84 L191.60,555.04" fill="none" stroke="#f29108" stroke-width="1.6" stroke-linejoin="round"/>
<circle cx="61.93" cy="564.00" r="2.8" fill="#f29108"/>
<circle cx="70.57" cy="563.36" r="2.8" fill="#f29108"/>
<circle cx="79.22" cy="564.64" r="2.8" fill="#f29108"/>
<circle cx="87.86" cy="564.64" r="2.8" fill="#f29108"/>
<circle cx="96.51" cy="519.20" r="2.8" fill="#f29108"/>
<circle cx="105.15" cy="521.12" r="2.8" fill="#f29108"/>
<circle cx="113.80" cy="523.04" r="2.8" fill="#f29108"/>
<circle cx="122.44" cy="526.24" r="2.8" fill="#f29108"/>
<circle cx="131.09" cy="507.04" r="2.8" fill="#f29108"/>
<circle cx="139.73" cy="503.84" r="2.8" fill="#f29108"/>
<circle cx="148.38" cy="501.92" r="2.8" fill="#f29108"/>
<circle cx="157.02" cy="500.64" r="2.8" fill="#f29108"/>
<circle cx="165.67" cy="532.00" r="2.8" fill="#f29108"/>
<circle cx="174.31" cy="546.72" r="2.8" fill="#f29108"/>
<circle cx="182.96" cy="551.84" r="2.8" fill="#f29108"/>
<circle cx="191.60" cy="555.04" r="2.8" fill="#f29108"/>
<line x1="61.93" y1="552.80" x2="61.93" y2="555.36" stroke="#c3112f" stroke-width="1.2"/>
<line x1="59.68" y1="552.80" x2="64.18" y2="552.80" stroke="#c3112f" stroke-width="1.2"/>
<line x1="59.68" y1="555.36" x2="64.18" y2="555.36" stroke="#c3112f" stroke-width="1.2"/>
<line x1="70.57" y1="552.80" x2="70.57" y2="555.36" stroke="#c3112f" stroke-width="1.2"/>
<line x1="68.32" y1="552.80" x2="72.82" y2="552.80" stroke="#c3112f" stroke-width="1.2"/>
<line x1="68.32" y1="555.36" x2="72.82" y2="555.36" stroke="#c3112f" stroke-width="1.2"/>
<line x1="79.22" y1="552.80" x2="79.22" y2="555.36" stroke="#c3112f" stroke-width="1.2"/>
<line x1="76.97" y1="552.80" x2="81.47" y2="552.80" stroke="#c3112f" stroke-width="1.2"/>
<line x1="76.97" y1="555.36" x2="81.47" y2="555.36" stroke="#c3112f" stroke-width="1.2"/>
<line x1="87.86" y1="552.80" x2="87.86" y2="555.36" stroke="#c3112f" stroke-width="1.2"/>
<line x1="85.61" y1="552.80" x2="90.11" y2="552.80" stroke="#c3112f" stroke-width="1.2"/>
<line x1="85.61" y1="555.36" x2="90.11" y2="555.36" stroke="#c3112f" stroke-width="1.2"/>
<line x1="96.51" y1="470.56" x2="96.51" y2="489.76" stroke="#c3112f" stroke-width="1.2"/>
<line x1="94.26" y1="470.56" x2="98.76" y2="470.56" stroke="#c3112f" stroke-width="1.2"/>
<line x1="94.26" y1="489.76" x2="98.76" y2="489.76" stroke="#c3112f" stroke-width="1.2"/>
<line x1="105.15" y1="471.20" x2="105.15" y2="490.40" stroke="#c3112f" stroke-width="1.2"/>
<line x1="102.90" y1="471.20" x2="107.40" y2="471.20" stroke="#c3112f" stroke-width="1.2"/>
<line x1="102.90" y1="490.40" x2="107.40" y2="490.40" stroke="#c3112f" stroke-width="1.2"/>
<line x1="113.80" y1="474.08" x2="113.80" y2="493.28" stroke="#c3112f" stroke-width="1.2"/>
<line x1="111.55" y1="474.08" x2="116.05" y2="474.08" stroke="#c3112f" stroke-width="1.2"/>
<line x1="111.55" y1="493.28" x2="116.05" y2="493.28" stroke="#c3112f" stroke-width="1.2"/>
<line x1="122.44" y1="478.24" x2="122.44" y2="497.44" stroke="#c3112f" stroke-width="1.2"/>
<line x1="120.19" y1="478.24" x2="124.69" y2="478.24" stroke="#c3112f" stroke-width="1.2"/>
<line x1="120.19" y1="497.44" x2="124.69" y2="497.44" stroke="#c3112f" stroke-width="1.2"/>
<line x1="131.09" y1="457.12" x2="131.09" y2="476.32" stroke="#c3112f" stroke-width="1.2"/>
<line x1="128.84" y1="457.12" x2="133.34" y2="457.12" stroke="#c3112f" stroke-width="1.2"/>
<line x1="128.84" y1="476.32" x2="133.34" y2="476.32" stroke="#c3112f" stroke-width="1.2"/>
<line x1="139.73" y1="451.36" x2="139.73" y2="470.56" stroke="#c3112f" stroke-width="1.2"/>
<line x1="137.48" y1="451.36" x2="141.98" y2="451.36" stroke="#c3112f" stroke-width="1.2"/>
<line x1="137.48" y1="470.56" x2="141.98" y2="470.56" stroke="#c3112f" stroke-width="1.2"/>
<line x1="148.38" y1="449.44" x2="148.38" y2="468.64" stroke="#c3112f" stroke-width="1.2"/>
<line x1="146.13" y1="449.44" x2="150.63" y2="449.44" stroke="#c3112f" stroke-width="1.2"/>
<line x1="146.13" y1="468.64" x2="150.63" y2="468.64" stroke="#c3112f" stroke-width="1.2"/>
<line x1="157.02" y1="448.80" x2="157.02" y2="468.00" stroke="#c3112f" stroke-width="1.2"/>
<line x1="154.77" y1="448.80" x2="159.27" y2="448.80" stroke="#c3112f" stroke-width="1.2"/>
<line x1="154.77" y1="468.00" x2="159.27" y2="468.00" stroke="#c3112f" stroke-width="1.2"/>
<line x1="165.67" y1="511.52" x2="165.67" y2="521.76" stroke="#c3112f" stroke-width="1.2"/>
<line x1="163.42" y1="511.52" x2="167.92" y2="511.52" stroke="#c3112f" stroke-width="1.2"/>
<line x1="163.42" y1="521.76" x2="167.92" y2="521.76" stroke="#c3112f" stroke-width="1.2"/>
<line x1="174.31" y1="535.20" x2="174.31" y2="545.44" stroke="#c3112f" stroke-width="1.2"/>
<line x1="172.06" y1="535.20" x2="176.56" y2="535.20" stroke="#c3112f" stroke-width="1.2"/>
<line x1="172.06" y1="545.44" x2="176.56" y2="545.44" stroke="#c3112f" stroke-width="1.2"/>
<line x1="182.96" y1="541.60" x2="182.96" y2="551.84" stroke="#c3112f" stroke-width="1.2"/>
<line x1="180.71" y1="541.60" x2="185.21" y2="541.60" stroke="#c3112f" stroke-width="1.2"/>
<line x1="180.71" y1="551.84" x2="185.21" y2="551.84" stroke="#c3112f" stroke-width="1.2"/>
<line x1="191.60" y1="544.16" x2="191.60" y2="554.40" stroke="#c3112f" stroke-width="1.2"/>
<line x1="189.35" y1="544.16" x2="193.85" y2="544.16" stroke="#c3112f" stroke-width="1.2"/>
<line x1="189.35" y1="554.40" x2="193.85" y2="554.40" stroke="#c3112f" stroke-width="1.2"/>
<path d="M61.93,554.08 L70.57,554.08 L79.22,554.08 L87.86,554.08 L96.51,480.16 L105.15,480.80 L113.80,483.68 L122.44,487.84 L131.09,466.72 L139.73,460.96 L148.38,459.04 L157.02,458.40 L165.67,516.64 L174.31,540.32 L182.96,546.72 L191.60,549.28" fill="none" stroke="#c3112f" stroke-width="1.6" stroke-linejoin="round"/>
<circle cx="61.93" cy="554.08" r="2.8" fill="#c3112f"/>
<circle cx="70.57" cy="554.08" r="2.8" fill="#c3112f"/>
<circle cx="79.22" cy="554.08" r="2.8" fill="#c3112f"/>
<circle cx="87.86" cy="554.08" r="2.8" fill="#c3112f"/>
<circle cx="96.51" cy="480.16" r="2.8" fill="#c3112f"/>
<circle cx="105.15" cy="480.80" r="2.8" fill="#c3112f"/>
<circle cx="113.80" cy="483.68" r="2.8" fill="#c3112f"/>
<circle cx="122.44" cy="487.84" r="2.8" fill="#c3112f"/>
<circle cx="131.09" cy="466.72" r="2.8" fill="#c3112f"/>
<circle cx="139.73" cy="460.96" r="2.8" fill="#c3112f"/>
<circle cx="148.38" cy="459.04" r="2.8" fill="#c3112f"/>
<circle cx="157.02" cy="458.40" r="2.8" fill="#c3112f"/>
<circle cx="165.67" cy="516.64" r="2.8" fill="#c3112f"/>
<circle cx="174.31" cy="540.32" r="2.8" fill="#c3112f"/>
<circle cx="182.96" cy="546.72" r="2.8" fill="#c3112f"/>
<circle cx="191.60" cy="549.28" r="2.8" fill="#c3112f"/>
<polygon points="167.98,496.35 168.54,497.72 170.02,497.84 168.90,498.80 169.24,500.24 167.98,499.47 166.71,500.24 167.05,498.80 165.93,497.84 167.41,497.72" fill="#dba14c"/>
<polygon points="172.53,496.35 173.09,497.72 174.57,497.84 173.45,498.80 173.79,500.24 172.53,499.47 171.26,500.24 171.60,498.80 170.48,497.84 171.96,497.72" fill="#dba14c"/>
<polygon points="177.08,496.35 177.64,497.72 179.12,497.84 178.00,498.80 178.34,500.24 177.08,499.47 175.81,500.24 176.15,498.80 175.03,497.84 176.51,497.72" fill="#dba14c"/>
<polygon points="181.63,496.35 182.19,497.72 183.67,497.84 182.55,498.80 182.89,500.24 181.63,499.47 180.36,500.24 180.70,498.80 179.58,497.84 181.06,497.72" fill="#dba14c"/>
<polygon points="168.88,503.65 169.44,505.02 170.92,505.14 169.80,506.10 170.14,507.54 168.88,506.77 167.61,507.54 167.95,506.10 166.83,505.14 168.31,505.02" fill="#482a66"/>
<polygon points="173.43,503.65 173.99,505.02 175.47,505.14 174.35,506.10 174.69,507.54 173.43,506.77 172.16,507.54 172.50,506.10 171.38,505.14 172.86,505.02" fill="#482a66"/>
<polygon points="177.97,503.65 178.54,505.02 180.02,505.14 178.90,506.10 179.24,507.54 177.97,506.77 176.71,507.54 177.05,506.10 175.93,505.14 177.41,505.02" fill="#482a66"/>
<polygon points="182.53,503.65 183.09,505.02 184.57,505.14 183.45,506.10 183.79,507.54 182.53,506.77 181.26,507.54 181.60,506.10 180.48,505.14 181.96,505.02" fill="#482a66"/>
<text x="338.60" y="396.80" font-size="11.5" text-anchor="middle" fill="#111" stroke="#111" stroke-width="0" font-weight="normal"  >Oxygen consumption rate (OCR)</text>
<line x1="268.40" y1="420.00" x2="268.40" y2="580.40" stroke="#111" stroke-width="1.5" />
<line x1="264.00" y1="579.60" x2="408.00" y2="579.60" stroke="#111" stroke-width="1.5" />
<line x1="263.80" y1="579.60" x2="268.40" y2="579.60" stroke="#111" stroke-width="1.3" />
<text x="259.20" y="583.30" font-size="11.3" text-anchor="end" fill="#111" stroke="#111" stroke-width="0" font-weight="normal"  >0</text>
<line x1="263.80" y1="562.40" x2="268.40" y2="562.40" stroke="#111" stroke-width="1.3" />
<text x="259.20" y="566.10" font-size="11.3" text-anchor="end" fill="#111" stroke="#111" stroke-width="0" font-weight="normal"  >20</text>
<line x1="263.80" y1="545.20" x2="268.40" y2="545.20" stroke="#111" stroke-width="1.3" />
<text x="259.20" y="548.90" font-size="11.3" text-anchor="end" fill="#111" stroke="#111" stroke-width="0" font-weight="normal"  >40</text>
<line x1="263.80" y1="528.00" x2="268.40" y2="528.00" stroke="#111" stroke-width="1.3" />
<text x="259.20" y="531.70" font-size="11.3" text-anchor="end" fill="#111" stroke="#111" stroke-width="0" font-weight="normal"  >60</text>
<line x1="263.80" y1="510.80" x2="268.40" y2="510.80" stroke="#111" stroke-width="1.3" />
<text x="259.20" y="514.50" font-size="11.3" text-anchor="end" fill="#111" stroke="#111" stroke-width="0" font-weight="normal"  >80</text>
<line x1="263.80" y1="493.60" x2="268.40" y2="493.60" stroke="#111" stroke-width="1.3" />
<text x="259.20" y="497.30" font-size="11.3" text-anchor="end" fill="#111" stroke="#111" stroke-width="0" font-weight="normal"  >100</text>
<line x1="263.80" y1="476.40" x2="268.40" y2="476.40" stroke="#111" stroke-width="1.3" />
<text x="259.20" y="480.10" font-size="11.3" text-anchor="end" fill="#111" stroke="#111" stroke-width="0" font-weight="normal"  >120</text>
<line x1="263.80" y1="459.20" x2="268.40" y2="459.20" stroke="#111" stroke-width="1.3" />
<text x="259.20" y="462.90" font-size="11.3" text-anchor="end" fill="#111" stroke="#111" stroke-width="0" font-weight="normal"  >140</text>
<line x1="263.80" y1="442.00" x2="268.40" y2="442.00" stroke="#111" stroke-width="1.3" />
<text x="259.20" y="445.70" font-size="11.3" text-anchor="end" fill="#111" stroke="#111" stroke-width="0" font-weight="normal"  >160</text>
<line x1="263.80" y1="424.80" x2="268.40" y2="424.80" stroke="#111" stroke-width="1.3" />
<text x="259.20" y="428.50" font-size="11.3" text-anchor="end" fill="#111" stroke="#111" stroke-width="0" font-weight="normal"  >180</text>
<line x1="274.40" y1="579.60" x2="274.40" y2="584.00" stroke="#111" stroke-width="1.3" />
<text x="274.40" y="599.20" font-size="11.3" text-anchor="middle" fill="#111" stroke="#111" stroke-width="0" font-weight="normal"  >0</text>
<line x1="287.40" y1="579.60" x2="287.40" y2="582.00" stroke="#111" stroke-width="1.3" />
<line x1="300.40" y1="579.60" x2="300.40" y2="584.00" stroke="#111" stroke-width="1.3" />
<text x="300.40" y="599.20" font-size="11.3" text-anchor="middle" fill="#111" stroke="#111" stroke-width="0" font-weight="normal"  >20</text>
<line x1="313.40" y1="579.60" x2="313.40" y2="582.00" stroke="#111" stroke-width="1.3" />
<line x1="326.40" y1="579.60" x2="326.40" y2="584.00" stroke="#111" stroke-width="1.3" />
<text x="326.40" y="599.20" font-size="11.3" text-anchor="middle" fill="#111" stroke="#111" stroke-width="0" font-weight="normal"  >40</text>
<line x1="339.40" y1="579.60" x2="339.40" y2="582.00" stroke="#111" stroke-width="1.3" />
<line x1="352.40" y1="579.60" x2="352.40" y2="584.00" stroke="#111" stroke-width="1.3" />
<text x="352.40" y="599.20" font-size="11.3" text-anchor="middle" fill="#111" stroke="#111" stroke-width="0" font-weight="normal"  >60</text>
<line x1="365.40" y1="579.60" x2="365.40" y2="582.00" stroke="#111" stroke-width="1.3" />
<line x1="378.40" y1="579.60" x2="378.40" y2="584.00" stroke="#111" stroke-width="1.3" />
<text x="378.40" y="599.20" font-size="11.3" text-anchor="middle" fill="#111" stroke="#111" stroke-width="0" font-weight="normal"  >80</text>
<line x1="391.40" y1="579.60" x2="391.40" y2="582.00" stroke="#111" stroke-width="1.3" />
<line x1="404.40" y1="579.60" x2="404.40" y2="584.00" stroke="#111" stroke-width="1.3" />
<text x="404.40" y="599.20" font-size="11.3" text-anchor="middle" fill="#111" stroke="#111" stroke-width="0" font-weight="normal"  >100</text>
<text transform="translate(338.60,619.00) scale(0.7,1)" font-size="14" text-anchor="middle" fill="#111" stroke="#111" stroke-width="0.5" letter-spacing="0">Minutes</text>
<text transform="translate(230.8,499.8) rotate(-90) scale(0.76,1)" font-size="13.6" text-anchor="middle" fill="#111" stroke="#111" stroke-width="0.5">pmol/min</text>
<text x="301.50" y="471.80" font-size="11.5" text-anchor="middle" fill="#111" stroke="#111" stroke-width="0" font-weight="normal"  >Oligomycin</text>
<text x="335.20" y="435.80" font-size="11.5" text-anchor="middle" fill="#111" stroke="#111" stroke-width="0" font-weight="normal"  >FCCP</text>
<text x="370.00" y="416.40" font-size="11.5" text-anchor="middle" fill="#111" stroke="#111" stroke-width="0" font-weight="normal"  >Antimycin A</text>
<line x1="301.6" y1="480" x2="301.6" y2="495.3" stroke="#111" stroke-width="1.4"/>
<polygon points="298.6,494.3 304.6,494.3 301.6,501.8" fill="#111"/>
<line x1="335.1" y1="443" x2="335.1" y2="458.0" stroke="#111" stroke-width="1.4"/>
<polygon points="332.1,457.0 338.1,457.0 335.1,464.5" fill="#111"/>
<line x1="369.8" y1="423.8" x2="369.8" y2="439.1" stroke="#111" stroke-width="1.4"/>
<polygon points="366.8,438.1 372.8,438.1 369.8,445.6" fill="#111"/>
<line x1="276.09" y1="534.88" x2="276.09" y2="541.76" stroke="#9289c6" stroke-width="1.2"/>
<line x1="273.84" y1="534.88" x2="278.34" y2="534.88" stroke="#9289c6" stroke-width="1.2"/>
<line x1="273.84" y1="541.76" x2="278.34" y2="541.76" stroke="#9289c6" stroke-width="1.2"/>
<line x1="284.54" y1="536.94" x2="284.54" y2="543.82" stroke="#9289c6" stroke-width="1.2"/>
<line x1="282.29" y1="536.94" x2="286.79" y2="536.94" stroke="#9289c6" stroke-width="1.2"/>
<line x1="282.29" y1="543.82" x2="286.79" y2="543.82" stroke="#9289c6" stroke-width="1.2"/>
<line x1="292.99" y1="536.94" x2="292.99" y2="543.82" stroke="#9289c6" stroke-width="1.2"/>
<line x1="290.74" y1="536.94" x2="295.24" y2="536.94" stroke="#9289c6" stroke-width="1.2"/>
<line x1="290.74" y1="543.82" x2="295.24" y2="543.82" stroke="#9289c6" stroke-width="1.2"/>
<line x1="301.44" y1="536.94" x2="301.44" y2="543.82" stroke="#9289c6" stroke-width="1.2"/>
<line x1="299.19" y1="536.94" x2="303.69" y2="536.94" stroke="#9289c6" stroke-width="1.2"/>
<line x1="299.19" y1="543.82" x2="303.69" y2="543.82" stroke="#9289c6" stroke-width="1.2"/>
<line x1="309.89" y1="565.84" x2="309.89" y2="569.28" stroke="#9289c6" stroke-width="1.2"/>
<line x1="307.64" y1="565.84" x2="312.14" y2="565.84" stroke="#9289c6" stroke-width="1.2"/>
<line x1="307.64" y1="569.28" x2="312.14" y2="569.28" stroke="#9289c6" stroke-width="1.2"/>
<line x1="318.34" y1="566.27" x2="318.34" y2="569.71" stroke="#9289c6" stroke-width="1.2"/>
<line x1="316.09" y1="566.27" x2="320.59" y2="566.27" stroke="#9289c6" stroke-width="1.2"/>
<line x1="316.09" y1="569.71" x2="320.59" y2="569.71" stroke="#9289c6" stroke-width="1.2"/>
<line x1="326.79" y1="566.27" x2="326.79" y2="569.71" stroke="#9289c6" stroke-width="1.2"/>
<line x1="324.54" y1="566.27" x2="329.04" y2="566.27" stroke="#9289c6" stroke-width="1.2"/>
<line x1="324.54" y1="569.71" x2="329.04" y2="569.71" stroke="#9289c6" stroke-width="1.2"/>
<line x1="335.24" y1="566.27" x2="335.24" y2="569.71" stroke="#9289c6" stroke-width="1.2"/>
<line x1="332.99" y1="566.27" x2="337.49" y2="566.27" stroke="#9289c6" stroke-width="1.2"/>
<line x1="332.99" y1="569.71" x2="337.49" y2="569.71" stroke="#9289c6" stroke-width="1.2"/>
<line x1="343.69" y1="507.36" x2="343.69" y2="517.68" stroke="#9289c6" stroke-width="1.2"/>
<line x1="341.44" y1="507.36" x2="345.94" y2="507.36" stroke="#9289c6" stroke-width="1.2"/>
<line x1="341.44" y1="517.68" x2="345.94" y2="517.68" stroke="#9289c6" stroke-width="1.2"/>
<line x1="352.14" y1="508.22" x2="352.14" y2="518.54" stroke="#9289c6" stroke-width="1.2"/>
<line x1="349.89" y1="508.22" x2="354.39" y2="508.22" stroke="#9289c6" stroke-width="1.2"/>
<line x1="349.89" y1="518.54" x2="354.39" y2="518.54" stroke="#9289c6" stroke-width="1.2"/>
<line x1="360.59" y1="508.65" x2="360.59" y2="518.97" stroke="#9289c6" stroke-width="1.2"/>
<line x1="358.34" y1="508.65" x2="362.84" y2="508.65" stroke="#9289c6" stroke-width="1.2"/>
<line x1="358.34" y1="518.97" x2="362.84" y2="518.97" stroke="#9289c6" stroke-width="1.2"/>
<line x1="369.04" y1="509.08" x2="369.04" y2="519.40" stroke="#9289c6" stroke-width="1.2"/>
<line x1="366.79" y1="509.08" x2="371.29" y2="509.08" stroke="#9289c6" stroke-width="1.2"/>
<line x1="366.79" y1="519.40" x2="371.29" y2="519.40" stroke="#9289c6" stroke-width="1.2"/>
<line x1="377.49" y1="571.86" x2="377.49" y2="575.30" stroke="#9289c6" stroke-width="1.2"/>
<line x1="375.24" y1="571.86" x2="379.74" y2="571.86" stroke="#9289c6" stroke-width="1.2"/>
<line x1="375.24" y1="575.30" x2="379.74" y2="575.30" stroke="#9289c6" stroke-width="1.2"/>
<line x1="385.94" y1="571.86" x2="385.94" y2="575.30" stroke="#9289c6" stroke-width="1.2"/>
<line x1="383.69" y1="571.86" x2="388.19" y2="571.86" stroke="#9289c6" stroke-width="1.2"/>
<line x1="383.69" y1="575.30" x2="388.19" y2="575.30" stroke="#9289c6" stroke-width="1.2"/>
<line x1="394.39" y1="571.86" x2="394.39" y2="575.30" stroke="#9289c6" stroke-width="1.2"/>
<line x1="392.14" y1="571.86" x2="396.64" y2="571.86" stroke="#9289c6" stroke-width="1.2"/>
<line x1="392.14" y1="575.30" x2="396.64" y2="575.30" stroke="#9289c6" stroke-width="1.2"/>
<line x1="402.84" y1="571.86" x2="402.84" y2="575.30" stroke="#9289c6" stroke-width="1.2"/>
<line x1="400.59" y1="571.86" x2="405.09" y2="571.86" stroke="#9289c6" stroke-width="1.2"/>
<line x1="400.59" y1="575.30" x2="405.09" y2="575.30" stroke="#9289c6" stroke-width="1.2"/>
<path d="M276.09,538.32 L284.54,540.38 L292.99,540.38 L301.44,540.38 L309.89,567.56 L318.34,567.99 L326.79,567.99 L335.24,567.99 L343.69,512.52 L352.14,513.38 L360.59,513.81 L369.04,514.24 L377.49,573.58 L385.94,573.58 L394.39,573.58 L402.84,573.58" fill="none" stroke="#9289c6" stroke-width="1.3" stroke-linejoin="round"/>
<rect x="273.69" y="535.92" width="4.80" height="4.80" fill="#aaa4d8" stroke="#9289c6" stroke-width="1.1"/>
<line x1="276.09" y1="535.92" x2="276.09" y2="540.72" stroke="#9289c6" stroke-width="1.1"/>
<rect x="282.14" y="537.98" width="4.80" height="4.80" fill="#aaa4d8" stroke="#9289c6" stroke-width="1.1"/>
<line x1="284.54" y1="537.98" x2="284.54" y2="542.78" stroke="#9289c6" stroke-width="1.1"/>
<rect x="290.59" y="537.98" width="4.80" height="4.80" fill="#aaa4d8" stroke="#9289c6" stroke-width="1.1"/>
<line x1="292.99" y1="537.98" x2="292.99" y2="542.78" stroke="#9289c6" stroke-width="1.1"/>
<rect x="299.04" y="537.98" width="4.80" height="4.80" fill="#aaa4d8" stroke="#9289c6" stroke-width="1.1"/>
<line x1="301.44" y1="537.98" x2="301.44" y2="542.78" stroke="#9289c6" stroke-width="1.1"/>
<rect x="307.49" y="565.16" width="4.80" height="4.80" fill="#aaa4d8" stroke="#9289c6" stroke-width="1.1"/>
<line x1="309.89" y1="565.16" x2="309.89" y2="569.96" stroke="#9289c6" stroke-width="1.1"/>
<rect x="315.94" y="565.59" width="4.80" height="4.80" fill="#aaa4d8" stroke="#9289c6" stroke-width="1.1"/>
<line x1="318.34" y1="565.59" x2="318.34" y2="570.39" stroke="#9289c6" stroke-width="1.1"/>
<rect x="324.39" y="565.59" width="4.80" height="4.80" fill="#aaa4d8" stroke="#9289c6" stroke-width="1.1"/>
<line x1="326.79" y1="565.59" x2="326.79" y2="570.39" stroke="#9289c6" stroke-width="1.1"/>
<rect x="332.84" y="565.59" width="4.80" height="4.80" fill="#aaa4d8" stroke="#9289c6" stroke-width="1.1"/>
<line x1="335.24" y1="565.59" x2="335.24" y2="570.39" stroke="#9289c6" stroke-width="1.1"/>
<rect x="341.29" y="510.12" width="4.80" height="4.80" fill="#aaa4d8" stroke="#9289c6" stroke-width="1.1"/>
<line x1="343.69" y1="510.12" x2="343.69" y2="514.92" stroke="#9289c6" stroke-width="1.1"/>
<rect x="349.74" y="510.98" width="4.80" height="4.80" fill="#aaa4d8" stroke="#9289c6" stroke-width="1.1"/>
<line x1="352.14" y1="510.98" x2="352.14" y2="515.78" stroke="#9289c6" stroke-width="1.1"/>
<rect x="358.19" y="511.41" width="4.80" height="4.80" fill="#aaa4d8" stroke="#9289c6" stroke-width="1.1"/>
<line x1="360.59" y1="511.41" x2="360.59" y2="516.21" stroke="#9289c6" stroke-width="1.1"/>
<rect x="366.64" y="511.84" width="4.80" height="4.80" fill="#aaa4d8" stroke="#9289c6" stroke-width="1.1"/>
<line x1="369.04" y1="511.84" x2="369.04" y2="516.64" stroke="#9289c6" stroke-width="1.1"/>
<rect x="375.09" y="571.18" width="4.80" height="4.80" fill="#aaa4d8" stroke="#9289c6" stroke-width="1.1"/>
<line x1="377.49" y1="571.18" x2="377.49" y2="575.98" stroke="#9289c6" stroke-width="1.1"/>
<rect x="383.54" y="571.18" width="4.80" height="4.80" fill="#aaa4d8" stroke="#9289c6" stroke-width="1.1"/>
<line x1="385.94" y1="571.18" x2="385.94" y2="575.98" stroke="#9289c6" stroke-width="1.1"/>
<rect x="391.99" y="571.18" width="4.80" height="4.80" fill="#aaa4d8" stroke="#9289c6" stroke-width="1.1"/>
<line x1="394.39" y1="571.18" x2="394.39" y2="575.98" stroke="#9289c6" stroke-width="1.1"/>
<rect x="400.44" y="571.18" width="4.80" height="4.80" fill="#aaa4d8" stroke="#9289c6" stroke-width="1.1"/>
<line x1="402.84" y1="571.18" x2="402.84" y2="575.98" stroke="#9289c6" stroke-width="1.1"/>
<line x1="276.09" y1="528.86" x2="276.09" y2="537.46" stroke="#5b1d68" stroke-width="1.2"/>
<line x1="273.84" y1="528.86" x2="278.34" y2="528.86" stroke="#5b1d68" stroke-width="1.2"/>
<line x1="273.84" y1="537.46" x2="278.34" y2="537.46" stroke="#5b1d68" stroke-width="1.2"/>
<line x1="284.54" y1="532.30" x2="284.54" y2="539.18" stroke="#5b1d68" stroke-width="1.2"/>
<line x1="282.29" y1="532.30" x2="286.79" y2="532.30" stroke="#5b1d68" stroke-width="1.2"/>
<line x1="282.29" y1="539.18" x2="286.79" y2="539.18" stroke="#5b1d68" stroke-width="1.2"/>
<line x1="292.99" y1="532.30" x2="292.99" y2="539.18" stroke="#5b1d68" stroke-width="1.2"/>
<line x1="290.74" y1="532.30" x2="295.24" y2="532.30" stroke="#5b1d68" stroke-width="1.2"/>
<line x1="290.74" y1="539.18" x2="295.24" y2="539.18" stroke="#5b1d68" stroke-width="1.2"/>
<line x1="301.44" y1="532.73" x2="301.44" y2="539.61" stroke="#5b1d68" stroke-width="1.2"/>
<line x1="299.19" y1="532.73" x2="303.69" y2="532.73" stroke="#5b1d68" stroke-width="1.2"/>
<line x1="299.19" y1="539.61" x2="303.69" y2="539.61" stroke="#5b1d68" stroke-width="1.2"/>
<line x1="309.89" y1="564.12" x2="309.89" y2="567.56" stroke="#5b1d68" stroke-width="1.2"/>
<line x1="307.64" y1="564.12" x2="312.14" y2="564.12" stroke="#5b1d68" stroke-width="1.2"/>
<line x1="307.64" y1="567.56" x2="312.14" y2="567.56" stroke="#5b1d68" stroke-width="1.2"/>
<line x1="318.34" y1="564.55" x2="318.34" y2="567.99" stroke="#5b1d68" stroke-width="1.2"/>
<line x1="316.09" y1="564.55" x2="320.59" y2="564.55" stroke="#5b1d68" stroke-width="1.2"/>
<line x1="316.09" y1="567.99" x2="320.59" y2="567.99" stroke="#5b1d68" stroke-width="1.2"/>
<line x1="326.79" y1="564.55" x2="326.79" y2="567.99" stroke="#5b1d68" stroke-width="1.2"/>
<line x1="324.54" y1="564.55" x2="329.04" y2="564.55" stroke="#5b1d68" stroke-width="1.2"/>
<line x1="324.54" y1="567.99" x2="329.04" y2="567.99" stroke="#5b1d68" stroke-width="1.2"/>
<line x1="335.24" y1="564.55" x2="335.24" y2="567.99" stroke="#5b1d68" stroke-width="1.2"/>
<line x1="332.99" y1="564.55" x2="337.49" y2="564.55" stroke="#5b1d68" stroke-width="1.2"/>
<line x1="332.99" y1="567.99" x2="337.49" y2="567.99" stroke="#5b1d68" stroke-width="1.2"/>
<line x1="343.69" y1="511.23" x2="343.69" y2="521.55" stroke="#5b1d68" stroke-width="1.2"/>
<line x1="341.44" y1="511.23" x2="345.94" y2="511.23" stroke="#5b1d68" stroke-width="1.2"/>
<line x1="341.44" y1="521.55" x2="345.94" y2="521.55" stroke="#5b1d68" stroke-width="1.2"/>
<line x1="352.14" y1="512.09" x2="352.14" y2="522.41" stroke="#5b1d68" stroke-width="1.2"/>
<line x1="349.89" y1="512.09" x2="354.39" y2="512.09" stroke="#5b1d68" stroke-width="1.2"/>
<line x1="349.89" y1="522.41" x2="354.39" y2="522.41" stroke="#5b1d68" stroke-width="1.2"/>
<line x1="360.59" y1="512.09" x2="360.59" y2="522.41" stroke="#5b1d68" stroke-width="1.2"/>
<line x1="358.34" y1="512.09" x2="362.84" y2="512.09" stroke="#5b1d68" stroke-width="1.2"/>
<line x1="358.34" y1="522.41" x2="362.84" y2="522.41" stroke="#5b1d68" stroke-width="1.2"/>
<line x1="369.04" y1="512.95" x2="369.04" y2="523.27" stroke="#5b1d68" stroke-width="1.2"/>
<line x1="366.79" y1="512.95" x2="371.29" y2="512.95" stroke="#5b1d68" stroke-width="1.2"/>
<line x1="366.79" y1="523.27" x2="371.29" y2="523.27" stroke="#5b1d68" stroke-width="1.2"/>
<line x1="377.49" y1="569.71" x2="377.49" y2="573.15" stroke="#5b1d68" stroke-width="1.2"/>
<line x1="375.24" y1="569.71" x2="379.74" y2="569.71" stroke="#5b1d68" stroke-width="1.2"/>
<line x1="375.24" y1="573.15" x2="379.74" y2="573.15" stroke="#5b1d68" stroke-width="1.2"/>
<line x1="385.94" y1="570.14" x2="385.94" y2="573.58" stroke="#5b1d68" stroke-width="1.2"/>
<line x1="383.69" y1="570.14" x2="388.19" y2="570.14" stroke="#5b1d68" stroke-width="1.2"/>
<line x1="383.69" y1="573.58" x2="388.19" y2="573.58" stroke="#5b1d68" stroke-width="1.2"/>
<line x1="394.39" y1="570.14" x2="394.39" y2="573.58" stroke="#5b1d68" stroke-width="1.2"/>
<line x1="392.14" y1="570.14" x2="396.64" y2="570.14" stroke="#5b1d68" stroke-width="1.2"/>
<line x1="392.14" y1="573.58" x2="396.64" y2="573.58" stroke="#5b1d68" stroke-width="1.2"/>
<line x1="402.84" y1="570.14" x2="402.84" y2="573.58" stroke="#5b1d68" stroke-width="1.2"/>
<line x1="400.59" y1="570.14" x2="405.09" y2="570.14" stroke="#5b1d68" stroke-width="1.2"/>
<line x1="400.59" y1="573.58" x2="405.09" y2="573.58" stroke="#5b1d68" stroke-width="1.2"/>
<path d="M276.09,533.16 L284.54,535.74 L292.99,535.74 L301.44,536.17 L309.89,565.84 L318.34,566.27 L326.79,566.27 L335.24,566.27 L343.69,516.39 L352.14,517.25 L360.59,517.25 L369.04,518.11 L377.49,571.43 L385.94,571.86 L394.39,571.86 L402.84,571.86" fill="none" stroke="#5b1d68" stroke-width="1.6" stroke-linejoin="round"/>
<circle cx="276.09" cy="533.16" r="2.6" fill="#5b1d68"/>
<circle cx="284.54" cy="535.74" r="2.6" fill="#5b1d68"/>
<circle cx="292.99" cy="535.74" r="2.6" fill="#5b1d68"/>
<circle cx="301.44" cy="536.17" r="2.6" fill="#5b1d68"/>
<circle cx="309.89" cy="565.84" r="2.6" fill="#5b1d68"/>
<circle cx="318.34" cy="566.27" r="2.6" fill="#5b1d68"/>
<circle cx="326.79" cy="566.27" r="2.6" fill="#5b1d68"/>
<circle cx="335.24" cy="566.27" r="2.6" fill="#5b1d68"/>
<circle cx="343.69" cy="516.39" r="2.6" fill="#5b1d68"/>
<circle cx="352.14" cy="517.25" r="2.6" fill="#5b1d68"/>
<circle cx="360.59" cy="517.25" r="2.6" fill="#5b1d68"/>
<circle cx="369.04" cy="518.11" r="2.6" fill="#5b1d68"/>
<circle cx="377.49" cy="571.43" r="2.6" fill="#5b1d68"/>
<circle cx="385.94" cy="571.86" r="2.6" fill="#5b1d68"/>
<circle cx="394.39" cy="571.86" r="2.6" fill="#5b1d68"/>
<circle cx="402.84" cy="571.86" r="2.6" fill="#5b1d68"/>
<line x1="276.09" y1="516.82" x2="276.09" y2="525.42" stroke="#f29108" stroke-width="1.2"/>
<line x1="273.84" y1="516.82" x2="278.34" y2="516.82" stroke="#f29108" stroke-width="1.2"/>
<line x1="273.84" y1="525.42" x2="278.34" y2="525.42" stroke="#f29108" stroke-width="1.2"/>
<line x1="284.54" y1="521.12" x2="284.54" y2="528.00" stroke="#f29108" stroke-width="1.2"/>
<line x1="282.29" y1="521.12" x2="286.79" y2="521.12" stroke="#f29108" stroke-width="1.2"/>
<line x1="282.29" y1="528.00" x2="286.79" y2="528.00" stroke="#f29108" stroke-width="1.2"/>
<line x1="292.99" y1="521.12" x2="292.99" y2="528.00" stroke="#f29108" stroke-width="1.2"/>
<line x1="290.74" y1="521.12" x2="295.24" y2="521.12" stroke="#f29108" stroke-width="1.2"/>
<line x1="290.74" y1="528.00" x2="295.24" y2="528.00" stroke="#f29108" stroke-width="1.2"/>
<line x1="301.44" y1="521.98" x2="301.44" y2="528.86" stroke="#f29108" stroke-width="1.2"/>
<line x1="299.19" y1="521.98" x2="303.69" y2="521.98" stroke="#f29108" stroke-width="1.2"/>
<line x1="299.19" y1="528.86" x2="303.69" y2="528.86" stroke="#f29108" stroke-width="1.2"/>
<line x1="309.89" y1="558.53" x2="309.89" y2="561.97" stroke="#f29108" stroke-width="1.2"/>
<line x1="307.64" y1="558.53" x2="312.14" y2="558.53" stroke="#f29108" stroke-width="1.2"/>
<line x1="307.64" y1="561.97" x2="312.14" y2="561.97" stroke="#f29108" stroke-width="1.2"/>
<line x1="318.34" y1="558.96" x2="318.34" y2="562.40" stroke="#f29108" stroke-width="1.2"/>
<line x1="316.09" y1="558.96" x2="320.59" y2="558.96" stroke="#f29108" stroke-width="1.2"/>
<line x1="316.09" y1="562.40" x2="320.59" y2="562.40" stroke="#f29108" stroke-width="1.2"/>
<line x1="326.79" y1="558.96" x2="326.79" y2="562.40" stroke="#f29108" stroke-width="1.2"/>
<line x1="324.54" y1="558.96" x2="329.04" y2="558.96" stroke="#f29108" stroke-width="1.2"/>
<line x1="324.54" y1="562.40" x2="329.04" y2="562.40" stroke="#f29108" stroke-width="1.2"/>
<line x1="335.24" y1="558.96" x2="335.24" y2="562.40" stroke="#f29108" stroke-width="1.2"/>
<line x1="332.99" y1="558.96" x2="337.49" y2="558.96" stroke="#f29108" stroke-width="1.2"/>
<line x1="332.99" y1="562.40" x2="337.49" y2="562.40" stroke="#f29108" stroke-width="1.2"/>
<line x1="343.69" y1="498.76" x2="343.69" y2="510.80" stroke="#f29108" stroke-width="1.2"/>
<line x1="341.44" y1="498.76" x2="345.94" y2="498.76" stroke="#f29108" stroke-width="1.2"/>
<line x1="341.44" y1="510.80" x2="345.94" y2="510.80" stroke="#f29108" stroke-width="1.2"/>
<line x1="352.14" y1="498.33" x2="352.14" y2="510.37" stroke="#f29108" stroke-width="1.2"/>
<line x1="349.89" y1="498.33" x2="354.39" y2="498.33" stroke="#f29108" stroke-width="1.2"/>
<line x1="349.89" y1="510.37" x2="354.39" y2="510.37" stroke="#f29108" stroke-width="1.2"/>
<line x1="360.59" y1="498.76" x2="360.59" y2="510.80" stroke="#f29108" stroke-width="1.2"/>
<line x1="358.34" y1="498.76" x2="362.84" y2="498.76" stroke="#f29108" stroke-width="1.2"/>
<line x1="358.34" y1="510.80" x2="362.84" y2="510.80" stroke="#f29108" stroke-width="1.2"/>
<line x1="369.04" y1="499.19" x2="369.04" y2="511.23" stroke="#f29108" stroke-width="1.2"/>
<line x1="366.79" y1="499.19" x2="371.29" y2="499.19" stroke="#f29108" stroke-width="1.2"/>
<line x1="366.79" y1="511.23" x2="371.29" y2="511.23" stroke="#f29108" stroke-width="1.2"/>
<line x1="377.49" y1="565.41" x2="377.49" y2="568.85" stroke="#f29108" stroke-width="1.2"/>
<line x1="375.24" y1="565.41" x2="379.74" y2="565.41" stroke="#f29108" stroke-width="1.2"/>
<line x1="375.24" y1="568.85" x2="379.74" y2="568.85" stroke="#f29108" stroke-width="1.2"/>
<line x1="385.94" y1="565.41" x2="385.94" y2="568.85" stroke="#f29108" stroke-width="1.2"/>
<line x1="383.69" y1="565.41" x2="388.19" y2="565.41" stroke="#f29108" stroke-width="1.2"/>
<line x1="383.69" y1="568.85" x2="388.19" y2="568.85" stroke="#f29108" stroke-width="1.2"/>
<line x1="394.39" y1="565.41" x2="394.39" y2="568.85" stroke="#f29108" stroke-width="1.2"/>
<line x1="392.14" y1="565.41" x2="396.64" y2="565.41" stroke="#f29108" stroke-width="1.2"/>
<line x1="392.14" y1="568.85" x2="396.64" y2="568.85" stroke="#f29108" stroke-width="1.2"/>
<line x1="402.84" y1="565.41" x2="402.84" y2="568.85" stroke="#f29108" stroke-width="1.2"/>
<line x1="400.59" y1="565.41" x2="405.09" y2="565.41" stroke="#f29108" stroke-width="1.2"/>
<line x1="400.59" y1="568.85" x2="405.09" y2="568.85" stroke="#f29108" stroke-width="1.2"/>
<path d="M276.09,521.12 L284.54,524.56 L292.99,524.56 L301.44,525.42 L309.89,560.25 L318.34,560.68 L326.79,560.68 L335.24,560.68 L343.69,504.78 L352.14,504.35 L360.59,504.78 L369.04,505.21 L377.49,567.13 L385.94,567.13 L394.39,567.13 L402.84,567.13" fill="none" stroke="#f29108" stroke-width="1.6" stroke-linejoin="round"/>
<circle cx="276.09" cy="521.12" r="2.6" fill="#f29108"/>
<circle cx="284.54" cy="524.56" r="2.6" fill="#f29108"/>
<circle cx="292.99" cy="524.56" r="2.6" fill="#f29108"/>
<circle cx="301.44" cy="525.42" r="2.6" fill="#f29108"/>
<circle cx="309.89" cy="560.25" r="2.6" fill="#f29108"/>
<circle cx="318.34" cy="560.68" r="2.6" fill="#f29108"/>
<circle cx="326.79" cy="560.68" r="2.6" fill="#f29108"/>
<circle cx="335.24" cy="560.68" r="2.6" fill="#f29108"/>
<circle cx="343.69" cy="504.78" r="2.6" fill="#f29108"/>
<circle cx="352.14" cy="504.35" r="2.6" fill="#f29108"/>
<circle cx="360.59" cy="504.78" r="2.6" fill="#f29108"/>
<circle cx="369.04" cy="505.21" r="2.6" fill="#f29108"/>
<circle cx="377.49" cy="567.13" r="2.6" fill="#f29108"/>
<circle cx="385.94" cy="567.13" r="2.6" fill="#f29108"/>
<circle cx="394.39" cy="567.13" r="2.6" fill="#f29108"/>
<circle cx="402.84" cy="567.13" r="2.6" fill="#f29108"/>
<line x1="276.09" y1="522.84" x2="276.09" y2="531.44" stroke="#3aa7de" stroke-width="1.2"/>
<line x1="273.84" y1="522.84" x2="278.34" y2="522.84" stroke="#3aa7de" stroke-width="1.2"/>
<line x1="273.84" y1="531.44" x2="278.34" y2="531.44" stroke="#3aa7de" stroke-width="1.2"/>
<line x1="284.54" y1="525.42" x2="284.54" y2="532.30" stroke="#3aa7de" stroke-width="1.2"/>
<line x1="282.29" y1="525.42" x2="286.79" y2="525.42" stroke="#3aa7de" stroke-width="1.2"/>
<line x1="282.29" y1="532.30" x2="286.79" y2="532.30" stroke="#3aa7de" stroke-width="1.2"/>
<line x1="292.99" y1="525.42" x2="292.99" y2="532.30" stroke="#3aa7de" stroke-width="1.2"/>
<line x1="290.74" y1="525.42" x2="295.24" y2="525.42" stroke="#3aa7de" stroke-width="1.2"/>
<line x1="290.74" y1="532.30" x2="295.24" y2="532.30" stroke="#3aa7de" stroke-width="1.2"/>
<line x1="301.44" y1="525.85" x2="301.44" y2="532.73" stroke="#3aa7de" stroke-width="1.2"/>
<line x1="299.19" y1="525.85" x2="303.69" y2="525.85" stroke="#3aa7de" stroke-width="1.2"/>
<line x1="299.19" y1="532.73" x2="303.69" y2="532.73" stroke="#3aa7de" stroke-width="1.2"/>
<line x1="309.89" y1="561.97" x2="309.89" y2="565.41" stroke="#3aa7de" stroke-width="1.2"/>
<line x1="307.64" y1="561.97" x2="312.14" y2="561.97" stroke="#3aa7de" stroke-width="1.2"/>
<line x1="307.64" y1="565.41" x2="312.14" y2="565.41" stroke="#3aa7de" stroke-width="1.2"/>
<line x1="318.34" y1="562.40" x2="318.34" y2="565.84" stroke="#3aa7de" stroke-width="1.2"/>
<line x1="316.09" y1="562.40" x2="320.59" y2="562.40" stroke="#3aa7de" stroke-width="1.2"/>
<line x1="316.09" y1="565.84" x2="320.59" y2="565.84" stroke="#3aa7de" stroke-width="1.2"/>
<line x1="326.79" y1="562.40" x2="326.79" y2="565.84" stroke="#3aa7de" stroke-width="1.2"/>
<line x1="324.54" y1="562.40" x2="329.04" y2="562.40" stroke="#3aa7de" stroke-width="1.2"/>
<line x1="324.54" y1="565.84" x2="329.04" y2="565.84" stroke="#3aa7de" stroke-width="1.2"/>
<line x1="335.24" y1="562.40" x2="335.24" y2="565.84" stroke="#3aa7de" stroke-width="1.2"/>
<line x1="332.99" y1="562.40" x2="337.49" y2="562.40" stroke="#3aa7de" stroke-width="1.2"/>
<line x1="332.99" y1="565.84" x2="337.49" y2="565.84" stroke="#3aa7de" stroke-width="1.2"/>
<line x1="343.69" y1="485.00" x2="343.69" y2="498.76" stroke="#3aa7de" stroke-width="1.2"/>
<line x1="341.44" y1="485.00" x2="345.94" y2="485.00" stroke="#3aa7de" stroke-width="1.2"/>
<line x1="341.44" y1="498.76" x2="345.94" y2="498.76" stroke="#3aa7de" stroke-width="1.2"/>
<line x1="352.14" y1="484.14" x2="352.14" y2="497.90" stroke="#3aa7de" stroke-width="1.2"/>
<line x1="349.89" y1="484.14" x2="354.39" y2="484.14" stroke="#3aa7de" stroke-width="1.2"/>
<line x1="349.89" y1="497.90" x2="354.39" y2="497.90" stroke="#3aa7de" stroke-width="1.2"/>
<line x1="360.59" y1="486.29" x2="360.59" y2="500.05" stroke="#3aa7de" stroke-width="1.2"/>
<line x1="358.34" y1="486.29" x2="362.84" y2="486.29" stroke="#3aa7de" stroke-width="1.2"/>
<line x1="358.34" y1="500.05" x2="362.84" y2="500.05" stroke="#3aa7de" stroke-width="1.2"/>
<line x1="369.04" y1="485.00" x2="369.04" y2="498.76" stroke="#3aa7de" stroke-width="1.2"/>
<line x1="366.79" y1="485.00" x2="371.29" y2="485.00" stroke="#3aa7de" stroke-width="1.2"/>
<line x1="366.79" y1="498.76" x2="371.29" y2="498.76" stroke="#3aa7de" stroke-width="1.2"/>
<line x1="377.49" y1="567.30" x2="377.49" y2="570.74" stroke="#3aa7de" stroke-width="1.2"/>
<line x1="375.24" y1="567.30" x2="379.74" y2="567.30" stroke="#3aa7de" stroke-width="1.2"/>
<line x1="375.24" y1="570.74" x2="379.74" y2="570.74" stroke="#3aa7de" stroke-width="1.2"/>
<line x1="385.94" y1="567.56" x2="385.94" y2="571.00" stroke="#3aa7de" stroke-width="1.2"/>
<line x1="383.69" y1="567.56" x2="388.19" y2="567.56" stroke="#3aa7de" stroke-width="1.2"/>
<line x1="383.69" y1="571.00" x2="388.19" y2="571.00" stroke="#3aa7de" stroke-width="1.2"/>
<line x1="394.39" y1="567.56" x2="394.39" y2="571.00" stroke="#3aa7de" stroke-width="1.2"/>
<line x1="392.14" y1="567.56" x2="396.64" y2="567.56" stroke="#3aa7de" stroke-width="1.2"/>
<line x1="392.14" y1="571.00" x2="396.64" y2="571.00" stroke="#3aa7de" stroke-width="1.2"/>
<line x1="402.84" y1="567.56" x2="402.84" y2="571.00" stroke="#3aa7de" stroke-width="1.2"/>
<line x1="400.59" y1="567.56" x2="405.09" y2="567.56" stroke="#3aa7de" stroke-width="1.2"/>
<line x1="400.59" y1="571.00" x2="405.09" y2="571.00" stroke="#3aa7de" stroke-width="1.2"/>
<path d="M276.09,527.14 L284.54,528.86 L292.99,528.86 L301.44,529.29 L309.89,563.69 L318.34,564.12 L326.79,564.12 L335.24,564.12 L343.69,491.88 L352.14,491.02 L360.59,493.17 L369.04,491.88 L377.49,569.02 L385.94,569.28 L394.39,569.28 L402.84,569.28" fill="none" stroke="#3aa7de" stroke-width="1.6" stroke-linejoin="round"/>
<circle cx="276.09" cy="527.14" r="2.6" fill="#3aa7de"/>
<circle cx="284.54" cy="528.86" r="2.6" fill="#3aa7de"/>
<circle cx="292.99" cy="528.86" r="2.6" fill="#3aa7de"/>
<circle cx="301.44" cy="529.29" r="2.6" fill="#3aa7de"/>
<circle cx="309.89" cy="563.69" r="2.6" fill="#3aa7de"/>
<circle cx="318.34" cy="564.12" r="2.6" fill="#3aa7de"/>
<circle cx="326.79" cy="564.12" r="2.6" fill="#3aa7de"/>
<circle cx="335.24" cy="564.12" r="2.6" fill="#3aa7de"/>
<circle cx="343.69" cy="491.88" r="2.6" fill="#3aa7de"/>
<circle cx="352.14" cy="491.02" r="2.6" fill="#3aa7de"/>
<circle cx="360.59" cy="493.17" r="2.6" fill="#3aa7de"/>
<circle cx="369.04" cy="491.88" r="2.6" fill="#3aa7de"/>
<circle cx="377.49" cy="569.02" r="2.6" fill="#3aa7de"/>
<circle cx="385.94" cy="569.28" r="2.6" fill="#3aa7de"/>
<circle cx="394.39" cy="569.28" r="2.6" fill="#3aa7de"/>
<circle cx="402.84" cy="569.28" r="2.6" fill="#3aa7de"/>
<line x1="276.09" y1="503.92" x2="276.09" y2="514.24" stroke="#c3112f" stroke-width="1.2"/>
<line x1="273.84" y1="503.92" x2="278.34" y2="503.92" stroke="#c3112f" stroke-width="1.2"/>
<line x1="273.84" y1="514.24" x2="278.34" y2="514.24" stroke="#c3112f" stroke-width="1.2"/>
<line x1="284.54" y1="508.65" x2="284.54" y2="517.25" stroke="#c3112f" stroke-width="1.2"/>
<line x1="282.29" y1="508.65" x2="286.79" y2="508.65" stroke="#c3112f" stroke-width="1.2"/>
<line x1="282.29" y1="517.25" x2="286.79" y2="517.25" stroke="#c3112f" stroke-width="1.2"/>
<line x1="292.99" y1="508.65" x2="292.99" y2="517.25" stroke="#c3112f" stroke-width="1.2"/>
<line x1="290.74" y1="508.65" x2="295.24" y2="508.65" stroke="#c3112f" stroke-width="1.2"/>
<line x1="290.74" y1="517.25" x2="295.24" y2="517.25" stroke="#c3112f" stroke-width="1.2"/>
<line x1="301.44" y1="510.37" x2="301.44" y2="518.97" stroke="#c3112f" stroke-width="1.2"/>
<line x1="299.19" y1="510.37" x2="303.69" y2="510.37" stroke="#c3112f" stroke-width="1.2"/>
<line x1="299.19" y1="518.97" x2="303.69" y2="518.97" stroke="#c3112f" stroke-width="1.2"/>
<line x1="309.89" y1="553.80" x2="309.89" y2="558.10" stroke="#c3112f" stroke-width="1.2"/>
<line x1="307.64" y1="553.80" x2="312.14" y2="553.80" stroke="#c3112f" stroke-width="1.2"/>
<line x1="307.64" y1="558.10" x2="312.14" y2="558.10" stroke="#c3112f" stroke-width="1.2"/>
<line x1="318.34" y1="555.52" x2="318.34" y2="558.96" stroke="#c3112f" stroke-width="1.2"/>
<line x1="316.09" y1="555.52" x2="320.59" y2="555.52" stroke="#c3112f" stroke-width="1.2"/>
<line x1="316.09" y1="558.96" x2="320.59" y2="558.96" stroke="#c3112f" stroke-width="1.2"/>
<line x1="326.79" y1="555.95" x2="326.79" y2="559.39" stroke="#c3112f" stroke-width="1.2"/>
<line x1="324.54" y1="555.95" x2="329.04" y2="555.95" stroke="#c3112f" stroke-width="1.2"/>
<line x1="324.54" y1="559.39" x2="329.04" y2="559.39" stroke="#c3112f" stroke-width="1.2"/>
<line x1="335.24" y1="555.95" x2="335.24" y2="559.39" stroke="#c3112f" stroke-width="1.2"/>
<line x1="332.99" y1="555.95" x2="337.49" y2="555.95" stroke="#c3112f" stroke-width="1.2"/>
<line x1="332.99" y1="559.39" x2="337.49" y2="559.39" stroke="#c3112f" stroke-width="1.2"/>
<line x1="343.69" y1="456.19" x2="343.69" y2="476.83" stroke="#c3112f" stroke-width="1.2"/>
<line x1="341.44" y1="456.19" x2="345.94" y2="456.19" stroke="#c3112f" stroke-width="1.2"/>
<line x1="341.44" y1="476.83" x2="345.94" y2="476.83" stroke="#c3112f" stroke-width="1.2"/>
<line x1="352.14" y1="452.92" x2="352.14" y2="471.84" stroke="#c3112f" stroke-width="1.2"/>
<line x1="349.89" y1="452.92" x2="354.39" y2="452.92" stroke="#c3112f" stroke-width="1.2"/>
<line x1="349.89" y1="471.84" x2="354.39" y2="471.84" stroke="#c3112f" stroke-width="1.2"/>
<line x1="360.59" y1="454.73" x2="360.59" y2="473.65" stroke="#c3112f" stroke-width="1.2"/>
<line x1="358.34" y1="454.73" x2="362.84" y2="454.73" stroke="#c3112f" stroke-width="1.2"/>
<line x1="358.34" y1="473.65" x2="362.84" y2="473.65" stroke="#c3112f" stroke-width="1.2"/>
<line x1="369.04" y1="456.36" x2="369.04" y2="475.28" stroke="#c3112f" stroke-width="1.2"/>
<line x1="366.79" y1="456.36" x2="371.29" y2="456.36" stroke="#c3112f" stroke-width="1.2"/>
<line x1="366.79" y1="475.28" x2="371.29" y2="475.28" stroke="#c3112f" stroke-width="1.2"/>
<line x1="377.49" y1="562.40" x2="377.49" y2="566.70" stroke="#c3112f" stroke-width="1.2"/>
<line x1="375.24" y1="562.40" x2="379.74" y2="562.40" stroke="#c3112f" stroke-width="1.2"/>
<line x1="375.24" y1="566.70" x2="379.74" y2="566.70" stroke="#c3112f" stroke-width="1.2"/>
<line x1="385.94" y1="562.83" x2="385.94" y2="567.13" stroke="#c3112f" stroke-width="1.2"/>
<line x1="383.69" y1="562.83" x2="388.19" y2="562.83" stroke="#c3112f" stroke-width="1.2"/>
<line x1="383.69" y1="567.13" x2="388.19" y2="567.13" stroke="#c3112f" stroke-width="1.2"/>
<line x1="394.39" y1="562.83" x2="394.39" y2="567.13" stroke="#c3112f" stroke-width="1.2"/>
<line x1="392.14" y1="562.83" x2="396.64" y2="562.83" stroke="#c3112f" stroke-width="1.2"/>
<line x1="392.14" y1="567.13" x2="396.64" y2="567.13" stroke="#c3112f" stroke-width="1.2"/>
<line x1="402.84" y1="563.26" x2="402.84" y2="567.56" stroke="#c3112f" stroke-width="1.2"/>
<line x1="400.59" y1="563.26" x2="405.09" y2="563.26" stroke="#c3112f" stroke-width="1.2"/>
<line x1="400.59" y1="567.56" x2="405.09" y2="567.56" stroke="#c3112f" stroke-width="1.2"/>
<path d="M276.09,509.08 L284.54,512.95 L292.99,512.95 L301.44,514.67 L309.89,555.95 L318.34,557.24 L326.79,557.67 L335.24,557.67 L343.69,466.51 L352.14,462.38 L360.59,464.19 L369.04,465.82 L377.49,564.55 L385.94,564.98 L394.39,564.98 L402.84,565.41" fill="none" stroke="#c3112f" stroke-width="1.6" stroke-linejoin="round"/>
<circle cx="276.09" cy="509.08" r="2.8" fill="#c3112f"/>
<circle cx="284.54" cy="512.95" r="2.8" fill="#c3112f"/>
<circle cx="292.99" cy="512.95" r="2.8" fill="#c3112f"/>
<circle cx="301.44" cy="514.67" r="2.8" fill="#c3112f"/>
<circle cx="309.89" cy="555.95" r="2.8" fill="#c3112f"/>
<circle cx="318.34" cy="557.24" r="2.8" fill="#c3112f"/>
<circle cx="326.79" cy="557.67" r="2.8" fill="#c3112f"/>
<circle cx="335.24" cy="557.67" r="2.8" fill="#c3112f"/>
<circle cx="343.69" cy="466.51" r="2.8" fill="#c3112f"/>
<circle cx="352.14" cy="462.38" r="2.8" fill="#c3112f"/>
<circle cx="360.59" cy="464.19" r="2.8" fill="#c3112f"/>
<circle cx="369.04" cy="465.82" r="2.8" fill="#c3112f"/>
<circle cx="377.49" cy="564.55" r="2.8" fill="#c3112f"/>
<circle cx="385.94" cy="564.98" r="2.8" fill="#c3112f"/>
<circle cx="394.39" cy="564.98" r="2.8" fill="#c3112f"/>
<circle cx="402.84" cy="565.41" r="2.8" fill="#c3112f"/>
<polygon points="379.48,490.75 380.04,492.12 381.52,492.24 380.40,493.20 380.74,494.64 379.48,493.87 378.21,494.64 378.55,493.20 377.43,492.24 378.91,492.12" fill="#4f96c4"/>
<polygon points="384.03,490.75 384.59,492.12 386.07,492.24 384.95,493.20 385.29,494.64 384.03,493.87 382.76,494.64 383.10,493.20 381.98,492.24 383.46,492.12" fill="#4f96c4"/>
<polygon points="388.58,490.75 389.14,492.12 390.62,492.24 389.50,493.20 389.84,494.64 388.58,493.87 387.31,494.64 387.65,493.20 386.53,492.24 388.01,492.12" fill="#4f96c4"/>
<polygon points="393.12,490.75 393.69,492.12 395.17,492.24 394.05,493.20 394.39,494.64 393.12,493.87 391.86,494.64 392.20,493.20 391.08,492.24 392.56,492.12" fill="#4f96c4"/>
<polygon points="379.48,503.05 380.04,504.42 381.52,504.54 380.40,505.50 380.74,506.94 379.48,506.17 378.21,506.94 378.55,505.50 377.43,504.54 378.91,504.42" fill="#dba14c"/>
<polygon points="384.03,503.05 384.59,504.42 386.07,504.54 384.95,505.50 385.29,506.94 384.03,506.17 382.76,506.94 383.10,505.50 381.98,504.54 383.46,504.42" fill="#dba14c"/>
<polygon points="388.58,503.05 389.14,504.42 390.62,504.54 389.50,505.50 389.84,506.94 388.58,506.17 387.31,506.94 387.65,505.50 386.53,504.54 388.01,504.42" fill="#dba14c"/>
<polygon points="393.12,503.05 393.69,504.42 395.17,504.54 394.05,505.50 394.39,506.94 393.12,506.17 391.86,506.94 392.20,505.50 391.08,504.54 392.56,504.42" fill="#dba14c"/>
<polygon points="379.48,518.95 380.04,520.32 381.52,520.44 380.40,521.40 380.74,522.84 379.48,522.07 378.21,522.84 378.55,521.40 377.43,520.44 378.91,520.32" fill="#482a66"/>
<polygon points="384.03,518.95 384.59,520.32 386.07,520.44 384.95,521.40 385.29,522.84 384.03,522.07 382.76,522.84 383.10,521.40 381.98,520.44 383.46,520.32" fill="#482a66"/>
<polygon points="388.58,518.95 389.14,520.32 390.62,520.44 389.50,521.40 389.84,522.84 388.58,522.07 387.31,522.84 387.65,521.40 386.53,520.44 388.01,520.32" fill="#482a66"/>
<polygon points="393.12,518.95 393.69,520.32 395.17,520.44 394.05,521.40 394.39,522.84 393.12,522.07 391.86,522.84 392.20,521.40 391.08,520.44 392.56,520.32" fill="#482a66"/>
<text x="403.20" y="473.80" font-size="11.8" text-anchor="start" fill="#b51d3d" stroke="#b51d3d" stroke-width="0" font-weight="normal"   textLength="35.3" lengthAdjust="spacingAndGlyphs">Vehicle</text>
<text x="403.20" y="490.60" font-size="11.8" text-anchor="start" fill="#45a2d6" stroke="#45a2d6" stroke-width="0" font-weight="normal"   textLength="24.2" lengthAdjust="spacingAndGlyphs">3PO</text>
<text x="403.20" y="507.80" font-size="11.8" text-anchor="start" fill="#e99626" stroke="#e99626" stroke-width="0" font-weight="normal"   textLength="41.2" lengthAdjust="spacingAndGlyphs">CB-839</text>
<text x="403.20" y="525.00" font-size="11.8" text-anchor="start" fill="#4f2764" stroke="#4f2764" stroke-width="0" font-weight="normal"   textLength="74.5" lengthAdjust="spacingAndGlyphs">CB-839+3PO</text>
<text x="404.4" y="548.7" font-size="11.5" fill="#9289c6"><tspan font-style="italic">WT</tspan> mice (untreated)</text>
<rect x="0.5" y="0.5" width="519" height="632" fill="none" stroke="#2a2a2a" stroke-width="1.2"/>
</svg>
</body></html>
